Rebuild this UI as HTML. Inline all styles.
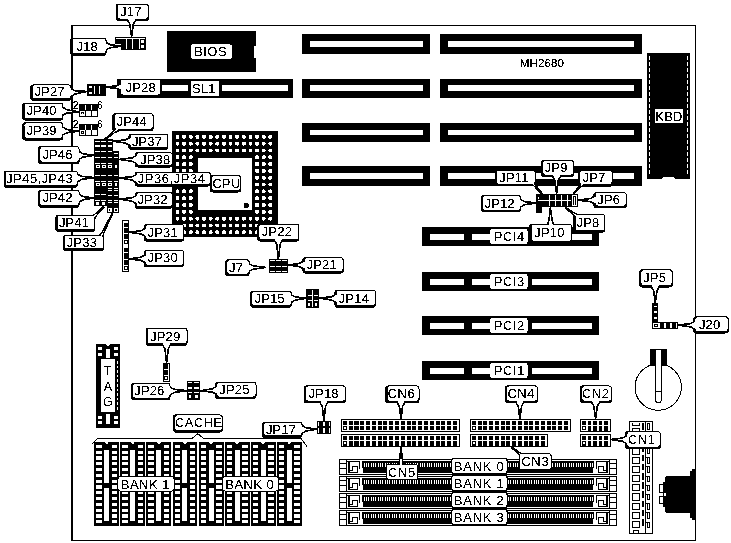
<!DOCTYPE html>
<html><head><meta charset="utf-8"><title>MH2680</title>
<style>
html,body{margin:0;padding:0;background:#fff;}
body{width:731px;height:543px;overflow:hidden;}
svg{display:block;}
text{font-family:"Liberation Sans",sans-serif;fill:#000;}
</style></head><body>
<svg width="731" height="543" viewBox="0 0 731 543">
<rect x="0" y="0" width="731" height="543" fill="#fff"/>
<defs><filter id="bw" x="0" y="0" width="731" height="543" filterUnits="userSpaceOnUse" color-interpolation-filters="sRGB"><feComponentTransfer><feFuncR type="discrete" tableValues="0 0 0 1 1"/><feFuncG type="discrete" tableValues="0 0 0 1 1"/><feFuncB type="discrete" tableValues="0 0 0 1 1"/></feComponentTransfer></filter></defs>
<g shape-rendering="crispEdges" filter="url(#bw)">
<rect x="0" y="0" width="731" height="543" fill="#fff"/>
<rect x="71.00" y="25.00" width="1.70" height="516.00" fill="#000" />
<rect x="71.00" y="25.00" width="625.00" height="1.00" fill="#000" />
<rect x="695.00" y="25.00" width="1.00" height="516.00" fill="#000" />
<rect x="71.00" y="539.50" width="625.00" height="1.60" fill="#000" />
<rect x="302.00" y="34.00" width="128.00" height="20.00" fill="#000" />
<rect x="310.00" y="41.00" width="113.00" height="6.00" fill="#fff" />
<rect x="440.00" y="34.00" width="202.00" height="20.00" fill="#000" />
<rect x="448.00" y="41.00" width="186.00" height="6.00" fill="#fff" />
<rect x="302.00" y="79.00" width="128.00" height="19.00" fill="#000" />
<rect x="310.00" y="85.00" width="113.00" height="6.00" fill="#fff" />
<rect x="440.00" y="79.00" width="202.00" height="19.00" fill="#000" />
<rect x="448.00" y="85.00" width="186.00" height="6.00" fill="#fff" />
<rect x="302.00" y="123.00" width="128.00" height="19.00" fill="#000" />
<rect x="310.00" y="130.00" width="113.00" height="5.00" fill="#fff" />
<rect x="440.00" y="123.00" width="202.00" height="19.00" fill="#000" />
<rect x="448.00" y="130.00" width="186.00" height="5.00" fill="#fff" />
<rect x="302.00" y="166.00" width="128.00" height="20.00" fill="#000" />
<rect x="310.00" y="173.00" width="113.00" height="6.00" fill="#fff" />
<rect x="440.00" y="166.00" width="202.00" height="20.00" fill="#000" />
<rect x="448.00" y="173.00" width="186.00" height="6.00" fill="#fff" />
<rect x="117.00" y="78.50" width="176.00" height="19.20" fill="#000" />
<rect x="162.30" y="85.00" width="25.70" height="6.00" fill="#fff" />
<rect x="222.00" y="85.00" width="66.00" height="6.00" fill="#fff" />
<rect x="191.00" y="81.00" width="28.00" height="14.50" fill="#fff" />
<text x="203.60" y="93.00" font-size="13" text-anchor="middle" letter-spacing="0.1" >SL1</text>
<rect x="167.00" y="31.00" width="89.00" height="41.00" fill="#000" />
<rect x="253.80" y="45.80" width="2.20" height="11.70" fill="#fff" />
<rect x="191.00" y="44.30" width="40.80" height="14.50" fill="#fff" rx="2.5"/>
<text x="210.60" y="56.30" font-size="13" text-anchor="middle" letter-spacing="0.5" >BIOS</text>
<text x="541.90" y="67.00" font-size="11.6" text-anchor="middle" letter-spacing="0.12" >MH2680</text>
<rect x="647.20" y="53.00" width="42.80" height="125.80" fill="#000" />
<line x1="649.7" y1="56" x2="649.7" y2="176" stroke="#fff" stroke-width="1" stroke-dasharray="4.2,1.8"/>
<line x1="687.6" y1="56" x2="687.6" y2="176" stroke="#fff" stroke-width="1" stroke-dasharray="4.2,1.8"/>
<path d="M661.8 178.9 Q663 177 665 177 L672 177 Q674.2 177 675.3 178.9 Z" fill="#fff"/>
<rect x="655.00" y="108.70" width="28.30" height="14.00" fill="#fff" />
<text x="669.00" y="120.60" font-size="13" text-anchor="middle" letter-spacing="0.3" >KBD</text>
<rect x="172.00" y="131.00" width="106.00" height="106.00" fill="#000" />
<rect x="175.60" y="134.90" width="3.80" height="3.80" fill="#fff" rx="1.3"/>
<rect x="182.23" y="134.90" width="3.80" height="3.80" fill="#fff" rx="1.3"/>
<rect x="188.86" y="134.90" width="3.80" height="3.80" fill="#fff" rx="1.3"/>
<rect x="195.49" y="134.90" width="3.80" height="3.80" fill="#fff" rx="1.3"/>
<rect x="202.12" y="134.90" width="3.80" height="3.80" fill="#fff" rx="1.3"/>
<rect x="208.75" y="134.90" width="3.80" height="3.80" fill="#fff" rx="1.3"/>
<rect x="215.38" y="134.90" width="3.80" height="3.80" fill="#fff" rx="1.3"/>
<rect x="222.01" y="134.90" width="3.80" height="3.80" fill="#fff" rx="1.3"/>
<rect x="228.64" y="134.90" width="3.80" height="3.80" fill="#fff" rx="1.3"/>
<rect x="235.27" y="134.90" width="3.80" height="3.80" fill="#fff" rx="1.3"/>
<rect x="241.90" y="134.90" width="3.80" height="3.80" fill="#fff" rx="1.3"/>
<rect x="248.53" y="134.90" width="3.80" height="3.80" fill="#fff" rx="1.3"/>
<rect x="255.16" y="134.90" width="3.80" height="3.80" fill="#fff" rx="1.3"/>
<rect x="261.79" y="134.90" width="3.80" height="3.80" fill="#fff" rx="1.3"/>
<rect x="268.42" y="134.90" width="3.80" height="3.80" fill="#fff" rx="1.3"/>
<rect x="175.60" y="141.72" width="3.80" height="3.80" fill="#fff" rx="1.3"/>
<rect x="182.23" y="141.72" width="3.80" height="3.80" fill="#fff" rx="1.3"/>
<rect x="188.86" y="141.72" width="3.80" height="3.80" fill="#fff" rx="1.3"/>
<rect x="195.49" y="141.72" width="3.80" height="3.80" fill="#fff" rx="1.3"/>
<rect x="202.12" y="141.72" width="3.80" height="3.80" fill="#fff" rx="1.3"/>
<rect x="208.75" y="141.72" width="3.80" height="3.80" fill="#fff" rx="1.3"/>
<rect x="215.38" y="141.72" width="3.80" height="3.80" fill="#fff" rx="1.3"/>
<rect x="222.01" y="141.72" width="3.80" height="3.80" fill="#fff" rx="1.3"/>
<rect x="228.64" y="141.72" width="3.80" height="3.80" fill="#fff" rx="1.3"/>
<rect x="235.27" y="141.72" width="3.80" height="3.80" fill="#fff" rx="1.3"/>
<rect x="241.90" y="141.72" width="3.80" height="3.80" fill="#fff" rx="1.3"/>
<rect x="248.53" y="141.72" width="3.80" height="3.80" fill="#fff" rx="1.3"/>
<rect x="255.16" y="141.72" width="3.80" height="3.80" fill="#fff" rx="1.3"/>
<rect x="261.79" y="141.72" width="3.80" height="3.80" fill="#fff" rx="1.3"/>
<rect x="268.42" y="141.72" width="3.80" height="3.80" fill="#fff" rx="1.3"/>
<rect x="175.60" y="148.54" width="3.80" height="3.80" fill="#fff" rx="1.3"/>
<rect x="182.23" y="148.54" width="3.80" height="3.80" fill="#fff" rx="1.3"/>
<rect x="188.86" y="148.54" width="3.80" height="3.80" fill="#fff" rx="1.3"/>
<rect x="195.49" y="148.54" width="3.80" height="3.80" fill="#fff" rx="1.3"/>
<rect x="202.12" y="148.54" width="3.80" height="3.80" fill="#fff" rx="1.3"/>
<rect x="208.75" y="148.54" width="3.80" height="3.80" fill="#fff" rx="1.3"/>
<rect x="215.38" y="148.54" width="3.80" height="3.80" fill="#fff" rx="1.3"/>
<rect x="222.01" y="148.54" width="3.80" height="3.80" fill="#fff" rx="1.3"/>
<rect x="228.64" y="148.54" width="3.80" height="3.80" fill="#fff" rx="1.3"/>
<rect x="235.27" y="148.54" width="3.80" height="3.80" fill="#fff" rx="1.3"/>
<rect x="241.90" y="148.54" width="3.80" height="3.80" fill="#fff" rx="1.3"/>
<rect x="248.53" y="148.54" width="3.80" height="3.80" fill="#fff" rx="1.3"/>
<rect x="255.16" y="148.54" width="3.80" height="3.80" fill="#fff" rx="1.3"/>
<rect x="261.79" y="148.54" width="3.80" height="3.80" fill="#fff" rx="1.3"/>
<rect x="268.42" y="148.54" width="3.80" height="3.80" fill="#fff" rx="1.3"/>
<rect x="175.60" y="155.36" width="3.80" height="3.80" fill="#fff" rx="1.3"/>
<rect x="182.23" y="155.36" width="3.80" height="3.80" fill="#fff" rx="1.3"/>
<rect x="188.86" y="155.36" width="3.80" height="3.80" fill="#fff" rx="1.3"/>
<rect x="255.16" y="155.36" width="3.80" height="3.80" fill="#fff" rx="1.3"/>
<rect x="261.79" y="155.36" width="3.80" height="3.80" fill="#fff" rx="1.3"/>
<rect x="268.42" y="155.36" width="3.80" height="3.80" fill="#fff" rx="1.3"/>
<rect x="175.60" y="162.18" width="3.80" height="3.80" fill="#fff" rx="1.3"/>
<rect x="182.23" y="162.18" width="3.80" height="3.80" fill="#fff" rx="1.3"/>
<rect x="188.86" y="162.18" width="3.80" height="3.80" fill="#fff" rx="1.3"/>
<rect x="255.16" y="162.18" width="3.80" height="3.80" fill="#fff" rx="1.3"/>
<rect x="261.79" y="162.18" width="3.80" height="3.80" fill="#fff" rx="1.3"/>
<rect x="268.42" y="162.18" width="3.80" height="3.80" fill="#fff" rx="1.3"/>
<rect x="175.60" y="169.00" width="3.80" height="3.80" fill="#fff" rx="1.3"/>
<rect x="182.23" y="169.00" width="3.80" height="3.80" fill="#fff" rx="1.3"/>
<rect x="188.86" y="169.00" width="3.80" height="3.80" fill="#fff" rx="1.3"/>
<rect x="255.16" y="169.00" width="3.80" height="3.80" fill="#fff" rx="1.3"/>
<rect x="261.79" y="169.00" width="3.80" height="3.80" fill="#fff" rx="1.3"/>
<rect x="268.42" y="169.00" width="3.80" height="3.80" fill="#fff" rx="1.3"/>
<rect x="175.60" y="175.82" width="3.80" height="3.80" fill="#fff" rx="1.3"/>
<rect x="182.23" y="175.82" width="3.80" height="3.80" fill="#fff" rx="1.3"/>
<rect x="188.86" y="175.82" width="3.80" height="3.80" fill="#fff" rx="1.3"/>
<rect x="255.16" y="175.82" width="3.80" height="3.80" fill="#fff" rx="1.3"/>
<rect x="261.79" y="175.82" width="3.80" height="3.80" fill="#fff" rx="1.3"/>
<rect x="268.42" y="175.82" width="3.80" height="3.80" fill="#fff" rx="1.3"/>
<rect x="175.60" y="182.64" width="3.80" height="3.80" fill="#fff" rx="1.3"/>
<rect x="182.23" y="182.64" width="3.80" height="3.80" fill="#fff" rx="1.3"/>
<rect x="188.86" y="182.64" width="3.80" height="3.80" fill="#fff" rx="1.3"/>
<rect x="255.16" y="182.64" width="3.80" height="3.80" fill="#fff" rx="1.3"/>
<rect x="261.79" y="182.64" width="3.80" height="3.80" fill="#fff" rx="1.3"/>
<rect x="268.42" y="182.64" width="3.80" height="3.80" fill="#fff" rx="1.3"/>
<rect x="175.60" y="189.46" width="3.80" height="3.80" fill="#fff" rx="1.3"/>
<rect x="182.23" y="189.46" width="3.80" height="3.80" fill="#fff" rx="1.3"/>
<rect x="188.86" y="189.46" width="3.80" height="3.80" fill="#fff" rx="1.3"/>
<rect x="255.16" y="189.46" width="3.80" height="3.80" fill="#fff" rx="1.3"/>
<rect x="261.79" y="189.46" width="3.80" height="3.80" fill="#fff" rx="1.3"/>
<rect x="268.42" y="189.46" width="3.80" height="3.80" fill="#fff" rx="1.3"/>
<rect x="175.60" y="196.28" width="3.80" height="3.80" fill="#fff" rx="1.3"/>
<rect x="182.23" y="196.28" width="3.80" height="3.80" fill="#fff" rx="1.3"/>
<rect x="188.86" y="196.28" width="3.80" height="3.80" fill="#fff" rx="1.3"/>
<rect x="255.16" y="196.28" width="3.80" height="3.80" fill="#fff" rx="1.3"/>
<rect x="261.79" y="196.28" width="3.80" height="3.80" fill="#fff" rx="1.3"/>
<rect x="268.42" y="196.28" width="3.80" height="3.80" fill="#fff" rx="1.3"/>
<rect x="175.60" y="203.10" width="3.80" height="3.80" fill="#fff" rx="1.3"/>
<rect x="182.23" y="203.10" width="3.80" height="3.80" fill="#fff" rx="1.3"/>
<rect x="188.86" y="203.10" width="3.80" height="3.80" fill="#fff" rx="1.3"/>
<rect x="255.16" y="203.10" width="3.80" height="3.80" fill="#fff" rx="1.3"/>
<rect x="261.79" y="203.10" width="3.80" height="3.80" fill="#fff" rx="1.3"/>
<rect x="268.42" y="203.10" width="3.80" height="3.80" fill="#fff" rx="1.3"/>
<rect x="175.60" y="209.92" width="3.80" height="3.80" fill="#fff" rx="1.3"/>
<rect x="182.23" y="209.92" width="3.80" height="3.80" fill="#fff" rx="1.3"/>
<rect x="188.86" y="209.92" width="3.80" height="3.80" fill="#fff" rx="1.3"/>
<rect x="255.16" y="209.92" width="3.80" height="3.80" fill="#fff" rx="1.3"/>
<rect x="261.79" y="209.92" width="3.80" height="3.80" fill="#fff" rx="1.3"/>
<rect x="268.42" y="209.92" width="3.80" height="3.80" fill="#fff" rx="1.3"/>
<rect x="175.60" y="216.74" width="3.80" height="3.80" fill="#fff" rx="1.3"/>
<rect x="182.23" y="216.74" width="3.80" height="3.80" fill="#fff" rx="1.3"/>
<rect x="188.86" y="216.74" width="3.80" height="3.80" fill="#fff" rx="1.3"/>
<rect x="195.49" y="216.74" width="3.80" height="3.80" fill="#fff" rx="1.3"/>
<rect x="202.12" y="216.74" width="3.80" height="3.80" fill="#fff" rx="1.3"/>
<rect x="208.75" y="216.74" width="3.80" height="3.80" fill="#fff" rx="1.3"/>
<rect x="215.38" y="216.74" width="3.80" height="3.80" fill="#fff" rx="1.3"/>
<rect x="222.01" y="216.74" width="3.80" height="3.80" fill="#fff" rx="1.3"/>
<rect x="228.64" y="216.74" width="3.80" height="3.80" fill="#fff" rx="1.3"/>
<rect x="235.27" y="216.74" width="3.80" height="3.80" fill="#fff" rx="1.3"/>
<rect x="241.90" y="216.74" width="3.80" height="3.80" fill="#fff" rx="1.3"/>
<rect x="248.53" y="216.74" width="3.80" height="3.80" fill="#fff" rx="1.3"/>
<rect x="255.16" y="216.74" width="3.80" height="3.80" fill="#fff" rx="1.3"/>
<rect x="261.79" y="216.74" width="3.80" height="3.80" fill="#fff" rx="1.3"/>
<rect x="268.42" y="216.74" width="3.80" height="3.80" fill="#fff" rx="1.3"/>
<rect x="175.60" y="223.56" width="3.80" height="3.80" fill="#fff" rx="1.3"/>
<rect x="182.23" y="223.56" width="3.80" height="3.80" fill="#fff" rx="1.3"/>
<rect x="188.86" y="223.56" width="3.80" height="3.80" fill="#fff" rx="1.3"/>
<rect x="195.49" y="223.56" width="3.80" height="3.80" fill="#fff" rx="1.3"/>
<rect x="202.12" y="223.56" width="3.80" height="3.80" fill="#fff" rx="1.3"/>
<rect x="208.75" y="223.56" width="3.80" height="3.80" fill="#fff" rx="1.3"/>
<rect x="215.38" y="223.56" width="3.80" height="3.80" fill="#fff" rx="1.3"/>
<rect x="222.01" y="223.56" width="3.80" height="3.80" fill="#fff" rx="1.3"/>
<rect x="228.64" y="223.56" width="3.80" height="3.80" fill="#fff" rx="1.3"/>
<rect x="235.27" y="223.56" width="3.80" height="3.80" fill="#fff" rx="1.3"/>
<rect x="241.90" y="223.56" width="3.80" height="3.80" fill="#fff" rx="1.3"/>
<rect x="248.53" y="223.56" width="3.80" height="3.80" fill="#fff" rx="1.3"/>
<rect x="255.16" y="223.56" width="3.80" height="3.80" fill="#fff" rx="1.3"/>
<rect x="261.79" y="223.56" width="3.80" height="3.80" fill="#fff" rx="1.3"/>
<rect x="268.42" y="223.56" width="3.80" height="3.80" fill="#fff" rx="1.3"/>
<rect x="175.60" y="230.38" width="3.80" height="3.80" fill="#fff" rx="1.3"/>
<rect x="182.23" y="230.38" width="3.80" height="3.80" fill="#fff" rx="1.3"/>
<rect x="188.86" y="230.38" width="3.80" height="3.80" fill="#fff" rx="1.3"/>
<rect x="195.49" y="230.38" width="3.80" height="3.80" fill="#fff" rx="1.3"/>
<rect x="202.12" y="230.38" width="3.80" height="3.80" fill="#fff" rx="1.3"/>
<rect x="208.75" y="230.38" width="3.80" height="3.80" fill="#fff" rx="1.3"/>
<rect x="215.38" y="230.38" width="3.80" height="3.80" fill="#fff" rx="1.3"/>
<rect x="222.01" y="230.38" width="3.80" height="3.80" fill="#fff" rx="1.3"/>
<rect x="228.64" y="230.38" width="3.80" height="3.80" fill="#fff" rx="1.3"/>
<rect x="235.27" y="230.38" width="3.80" height="3.80" fill="#fff" rx="1.3"/>
<rect x="241.90" y="230.38" width="3.80" height="3.80" fill="#fff" rx="1.3"/>
<rect x="248.53" y="230.38" width="3.80" height="3.80" fill="#fff" rx="1.3"/>
<rect x="255.16" y="230.38" width="3.80" height="3.80" fill="#fff" rx="1.3"/>
<rect x="261.79" y="230.38" width="3.80" height="3.80" fill="#fff" rx="1.3"/>
<rect x="268.42" y="230.38" width="3.80" height="3.80" fill="#fff" rx="1.3"/>
<rect x="197.80" y="157.70" width="54.20" height="52.30" fill="#fff" />
<circle cx="246.2" cy="205.6" r="2.7" fill="#000"/>
<rect x="422.00" y="227.00" width="177.00" height="19.00" fill="#000" />
<rect x="430.00" y="234.00" width="34.00" height="6.00" fill="#fff" />
<rect x="472.00" y="234.00" width="17.50" height="6.00" fill="#fff" />
<rect x="532.00" y="234.00" width="60.40" height="6.00" fill="#fff" />
<rect x="490.30" y="229.00" width="37.30" height="15.00" fill="#fff" rx="2.5"/>
<text x="509.30" y="241.20" font-size="13" text-anchor="middle" letter-spacing="0.5" >PCI4</text>
<rect x="422.00" y="272.00" width="177.00" height="19.00" fill="#000" />
<rect x="430.00" y="279.00" width="34.00" height="6.00" fill="#fff" />
<rect x="472.00" y="279.00" width="17.50" height="6.00" fill="#fff" />
<rect x="532.00" y="279.00" width="60.40" height="6.00" fill="#fff" />
<rect x="490.30" y="274.00" width="37.30" height="15.00" fill="#fff" rx="2.5"/>
<text x="509.30" y="286.20" font-size="13" text-anchor="middle" letter-spacing="0.5" >PCI3</text>
<rect x="422.00" y="316.00" width="177.00" height="19.00" fill="#000" />
<rect x="430.00" y="323.00" width="34.00" height="6.00" fill="#fff" />
<rect x="472.00" y="323.00" width="17.50" height="6.00" fill="#fff" />
<rect x="532.00" y="323.00" width="60.40" height="6.00" fill="#fff" />
<rect x="490.30" y="318.00" width="37.30" height="15.00" fill="#fff" rx="2.5"/>
<text x="509.30" y="330.20" font-size="13" text-anchor="middle" letter-spacing="0.5" >PCI2</text>
<rect x="422.00" y="361.00" width="177.00" height="19.00" fill="#000" />
<rect x="430.00" y="368.00" width="34.00" height="6.00" fill="#fff" />
<rect x="472.00" y="368.00" width="17.50" height="6.00" fill="#fff" />
<rect x="532.00" y="368.00" width="60.40" height="6.00" fill="#fff" />
<rect x="490.30" y="363.00" width="37.30" height="15.00" fill="#fff" rx="2.5"/>
<text x="509.30" y="375.20" font-size="13" text-anchor="middle" letter-spacing="0.5" >PCI1</text>
<rect x="115.00" y="37.00" width="31.00" height="7.00" fill="#000" />
<rect x="121.00" y="37.00" width="25.00" height="13.00" fill="#000" />
<rect x="116.00" y="38.00" width="29.00" height="1.00" fill="#fff" />
<rect x="126.00" y="39.00" width="1.00" height="10.00" fill="#fff" />
<rect x="132.00" y="39.00" width="1.00" height="10.00" fill="#fff" />
<rect x="139.00" y="39.00" width="1.00" height="10.00" fill="#fff" />
<rect x="141.00" y="40.00" width="3.00" height="3.00" fill="#fff" />
<rect x="141.00" y="45.00" width="3.00" height="3.00" fill="#fff" />
<rect x="87.30" y="84.00" width="18.70" height="11.70" fill="#000" />
<rect x="89.30" y="85.70" width="3.00" height="2.50" fill="#fff" />
<rect x="89.30" y="91.60" width="3.00" height="2.40" fill="#fff" />
<rect x="93.60" y="85.70" width="1.00" height="8.30" fill="#fff" />
<rect x="98.60" y="85.70" width="1.00" height="8.30" fill="#fff" />
<rect x="79.30" y="104.30" width="18.70" height="12.20" fill="#000" />
<rect x="80.30" y="110.90" width="4.60" height="4.60" fill="#fff" />
<rect x="86.10" y="110.90" width="4.90" height="4.60" fill="#fff" />
<rect x="92.20" y="110.90" width="4.80" height="4.60" fill="#fff" />
<rect x="84.90" y="105.30" width="1.20" height="5.00" fill="#fff" />
<rect x="91.00" y="105.30" width="1.20" height="5.00" fill="#fff" />
<rect x="81.40" y="111.90" width="2.40" height="2.40" fill="#000" />
<rect x="82.10" y="112.60" width="1.00" height="1.00" fill="#fff" />
<text x="75.60" y="108.60" font-size="10.5" text-anchor="middle" letter-spacing="0" >2</text>
<text x="100.00" y="108.60" font-size="10.5" text-anchor="middle" letter-spacing="0" >6</text>
<rect x="79.30" y="123.50" width="18.70" height="12.20" fill="#000" />
<rect x="80.30" y="130.10" width="4.60" height="4.60" fill="#fff" />
<rect x="86.10" y="130.10" width="4.90" height="4.60" fill="#fff" />
<rect x="92.20" y="130.10" width="4.80" height="4.60" fill="#fff" />
<rect x="84.90" y="124.50" width="1.20" height="5.00" fill="#fff" />
<rect x="91.00" y="124.50" width="1.20" height="5.00" fill="#fff" />
<rect x="81.40" y="131.10" width="2.40" height="2.40" fill="#000" />
<rect x="82.10" y="131.80" width="1.00" height="1.00" fill="#fff" />
<text x="75.60" y="127.80" font-size="10.5" text-anchor="middle" letter-spacing="0" >2</text>
<text x="100.00" y="127.80" font-size="10.5" text-anchor="middle" letter-spacing="0" >6</text>
<rect x="94.00" y="139.00" width="19.00" height="67.00" fill="#000" />
<rect x="113.00" y="151.00" width="5.60" height="62.30" fill="#000" />
<rect x="107.00" y="206.00" width="11.60" height="7.30" fill="#000" />
<rect x="95.00" y="141.00" width="5.00" height="1.00" fill="#fff" />
<rect x="101.00" y="141.00" width="5.00" height="1.00" fill="#fff" />
<rect x="107.60" y="141.00" width="4.40" height="1.00" fill="#fff" />
<rect x="95.00" y="145.00" width="5.00" height="2.00" fill="#fff" />
<rect x="101.00" y="145.00" width="5.00" height="2.00" fill="#fff" />
<rect x="107.60" y="145.00" width="4.40" height="2.00" fill="#fff" />
<rect x="95.00" y="151.00" width="5.00" height="1.00" fill="#fff" />
<rect x="101.00" y="151.00" width="5.00" height="1.00" fill="#fff" />
<rect x="107.60" y="151.00" width="4.40" height="1.00" fill="#fff" />
<rect x="114.00" y="153.00" width="4.00" height="1.00" fill="#fff" />
<rect x="95.00" y="157.00" width="5.00" height="1.00" fill="#fff" />
<rect x="101.00" y="157.00" width="5.00" height="1.00" fill="#fff" />
<rect x="107.60" y="157.00" width="4.40" height="1.00" fill="#fff" />
<rect x="114.00" y="157.00" width="4.00" height="1.00" fill="#fff" />
<rect x="95.00" y="163.00" width="5.00" height="1.00" fill="#fff" />
<rect x="101.00" y="163.00" width="5.00" height="1.00" fill="#fff" />
<rect x="107.60" y="163.00" width="4.40" height="1.00" fill="#fff" />
<rect x="95.50" y="165.00" width="4.00" height="3.00" fill="#fff" />
<rect x="96.50" y="166.00" width="2.00" height="1.00" fill="#000" />
<rect x="101.50" y="165.00" width="4.00" height="3.00" fill="#fff" />
<rect x="102.50" y="166.00" width="2.00" height="1.00" fill="#000" />
<rect x="108.10" y="165.00" width="3.40" height="3.00" fill="#fff" />
<rect x="109.10" y="166.00" width="1.40" height="1.00" fill="#000" />
<rect x="115.00" y="165.00" width="2.00" height="3.00" fill="#fff" />
<rect x="95.00" y="181.00" width="5.00" height="1.00" fill="#fff" />
<rect x="101.00" y="181.00" width="5.00" height="1.00" fill="#fff" />
<rect x="107.60" y="181.00" width="4.40" height="1.00" fill="#fff" />
<rect x="114.00" y="181.00" width="4.00" height="1.00" fill="#fff" />
<rect x="95.50" y="183.00" width="4.00" height="3.00" fill="#fff" />
<rect x="96.50" y="184.00" width="2.00" height="1.00" fill="#000" />
<rect x="101.50" y="183.00" width="4.00" height="3.00" fill="#fff" />
<rect x="102.50" y="184.00" width="2.00" height="1.00" fill="#000" />
<rect x="108.10" y="183.00" width="3.40" height="3.00" fill="#fff" />
<rect x="109.10" y="184.00" width="1.40" height="1.00" fill="#000" />
<rect x="115.00" y="183.00" width="2.00" height="3.00" fill="#fff" />
<rect x="95.00" y="175.00" width="5.00" height="1.00" fill="#fff" />
<rect x="101.00" y="175.00" width="5.00" height="1.00" fill="#fff" />
<rect x="107.60" y="175.00" width="4.40" height="1.00" fill="#fff" />
<rect x="114.00" y="175.00" width="4.00" height="1.00" fill="#fff" />
<rect x="107.60" y="188.00" width="4.40" height="1.00" fill="#fff" />
<rect x="114.00" y="188.00" width="4.00" height="1.00" fill="#fff" />
<rect x="107.60" y="190.00" width="4.40" height="1.00" fill="#fff" />
<rect x="114.00" y="190.00" width="4.00" height="1.00" fill="#fff" />
<rect x="95.00" y="194.00" width="5.00" height="1.00" fill="#fff" />
<rect x="101.00" y="194.00" width="5.00" height="1.00" fill="#fff" />
<rect x="107.60" y="195.00" width="4.40" height="1.00" fill="#fff" />
<rect x="114.00" y="195.00" width="4.00" height="1.00" fill="#fff" />
<rect x="95.00" y="200.00" width="5.00" height="1.00" fill="#fff" />
<rect x="101.00" y="200.00" width="5.00" height="1.00" fill="#fff" />
<rect x="107.60" y="200.00" width="4.40" height="1.00" fill="#fff" />
<rect x="114.00" y="200.00" width="4.00" height="1.00" fill="#fff" />
<rect x="95.50" y="202.00" width="3.50" height="3.30" fill="#fff" />
<rect x="101.50" y="202.00" width="3.50" height="3.30" fill="#fff" />
<rect x="107.60" y="202.00" width="4.40" height="1.00" fill="#fff" />
<rect x="114.00" y="202.00" width="4.00" height="1.00" fill="#fff" />
<rect x="108.30" y="207.60" width="3.70" height="4.60" fill="#fff" />
<rect x="109.30" y="208.60" width="1.70" height="2.60" fill="#000" />
<rect x="109.80" y="209.00" width="0.70" height="1.60" fill="#fff" />
<rect x="114.00" y="207.60" width="3.60" height="4.60" fill="#fff" />
<rect x="115.00" y="208.60" width="1.60" height="2.60" fill="#000" />
<rect x="115.50" y="209.00" width="0.60" height="1.60" fill="#fff" />
<rect x="122.00" y="220.00" width="7.20" height="52.00" fill="#000" />
<rect x="123.00" y="221.00" width="5.20" height="50.00" fill="#fff" />
<rect x="124.00" y="223.00" width="5.00" height="4.40" fill="#000" />
<rect x="124.00" y="228.40" width="5.00" height="4.40" fill="#000" />
<rect x="124.00" y="234.20" width="5.00" height="4.80" fill="#000" />
<rect x="124.00" y="248.00" width="5.00" height="4.40" fill="#000" />
<rect x="124.00" y="253.40" width="5.00" height="5.20" fill="#000" />
<rect x="124.00" y="260.20" width="5.00" height="4.60" fill="#000" />
<rect x="124.00" y="240.00" width="5.00" height="4.30" fill="#000" />
<rect x="125.40" y="241.20" width="1.60" height="1.70" fill="#fff" />
<rect x="124.00" y="265.80" width="5.00" height="4.30" fill="#000" />
<rect x="125.40" y="267.00" width="1.60" height="1.70" fill="#fff" />
<rect x="269.20" y="258.80" width="18.80" height="14.20" fill="#000" />
<rect x="270.30" y="260.00" width="4.40" height="1.00" fill="#fff" />
<rect x="276.30" y="260.00" width="4.70" height="1.00" fill="#fff" />
<rect x="282.40" y="260.00" width="4.40" height="1.00" fill="#fff" />
<rect x="270.30" y="265.50" width="4.40" height="1.00" fill="#fff" />
<rect x="276.30" y="265.50" width="4.70" height="1.00" fill="#fff" />
<rect x="282.40" y="265.50" width="4.40" height="1.00" fill="#fff" />
<rect x="270.30" y="271.00" width="4.40" height="1.00" fill="#fff" />
<rect x="276.30" y="271.00" width="4.70" height="1.00" fill="#fff" />
<rect x="282.40" y="271.00" width="4.40" height="1.00" fill="#fff" />
<rect x="306.00" y="289.00" width="13.30" height="18.70" fill="#000" />
<rect x="312.00" y="290.00" width="1.00" height="17.00" fill="#fff" />
<rect x="307.50" y="295.00" width="4.00" height="1.00" fill="#fff" />
<rect x="313.50" y="295.00" width="4.50" height="1.00" fill="#fff" />
<rect x="307.50" y="300.00" width="4.00" height="1.00" fill="#fff" />
<rect x="313.50" y="300.00" width="4.50" height="1.00" fill="#fff" />
<rect x="308.00" y="303.00" width="2.30" height="3.00" fill="#fff" />
<rect x="314.50" y="303.00" width="2.50" height="3.00" fill="#fff" />
<rect x="536.30" y="194.30" width="41.20" height="13.10" fill="#000" />
<rect x="536.30" y="207.00" width="5.30" height="5.80" fill="#000" />
<rect x="538.00" y="195.60" width="33.00" height="0.80" fill="#fff" />
<rect x="538.00" y="200.20" width="33.00" height="0.80" fill="#fff" />
<rect x="543.60" y="195.40" width="0.80" height="11.00" fill="#fff" />
<rect x="549.40" y="195.40" width="0.80" height="11.00" fill="#fff" />
<rect x="555.20" y="195.40" width="0.80" height="11.00" fill="#fff" />
<rect x="561.00" y="195.40" width="0.80" height="11.00" fill="#fff" />
<rect x="566.80" y="195.40" width="0.80" height="11.00" fill="#fff" />
<rect x="572.40" y="195.40" width="4.10" height="11.00" fill="#fff" />
<rect x="573.30" y="196.40" width="2.30" height="9.00" fill="#000" />
<rect x="574.00" y="197.20" width="1.00" height="7.40" fill="#fff" />
<rect x="537.50" y="196.80" width="1.50" height="1.80" fill="#fff" />
<rect x="652.30" y="302.90" width="6.00" height="19.90" fill="#000" />
<rect x="653.60" y="306.00" width="3.40" height="1.20" fill="#fff" />
<rect x="653.60" y="310.80" width="3.40" height="2.50" fill="#fff" />
<rect x="653.60" y="316.60" width="3.40" height="2.80" fill="#fff" />
<rect x="652.30" y="322.20" width="25.50" height="6.60" fill="#000" />
<rect x="653.20" y="323.10" width="23.70" height="4.80" fill="#fff" />
<rect x="659.60" y="323.10" width="4.00" height="4.80" fill="#000" />
<rect x="665.60" y="323.10" width="4.00" height="4.80" fill="#000" />
<rect x="671.60" y="323.10" width="4.00" height="4.80" fill="#000" />
<rect x="654.40" y="324.20" width="3.20" height="2.80" fill="#000" />
<rect x="655.20" y="324.90" width="1.60" height="1.40" fill="#fff" />
<circle cx="658.2" cy="387.1" r="23.2" fill="#fff" stroke="#000" stroke-width="1"/>
<rect x="650.00" y="349.00" width="17.00" height="17.00" fill="#000" />
<path d="M655.5 349.5 L661.3 349.5 L661.3 399 Q661.3 403 658.4 403 Q655.5 403 655.5 399 Z" fill="#fff" stroke="#000" stroke-width="1"/>
<rect x="655.50" y="390.60" width="5.80" height="1.00" fill="#000" />
<rect x="96.20" y="344.20" width="24.00" height="83.30" fill="#000" />
<rect x="98.20" y="347.00" width="4.20" height="3.20" fill="#fff" />
<rect x="98.20" y="352.50" width="4.20" height="3.20" fill="#fff" />
<rect x="98.20" y="415.50" width="4.20" height="3.20" fill="#fff" />
<rect x="98.20" y="421.00" width="4.20" height="3.20" fill="#fff" />
<rect x="113.60" y="347.00" width="4.40" height="3.20" fill="#fff" />
<rect x="113.60" y="352.50" width="4.40" height="3.20" fill="#fff" />
<rect x="113.60" y="415.50" width="4.40" height="3.20" fill="#fff" />
<rect x="113.60" y="421.00" width="4.40" height="3.20" fill="#fff" />
<rect x="105.80" y="349.00" width="4.00" height="8.50" fill="#fff" />
<rect x="105.80" y="414.00" width="4.00" height="9.50" fill="#fff" />
<polygon points="105.50,344.20 108.00,347.00 110.50,344.20" fill="#fff" />
<rect x="100.70" y="358.80" width="14.50" height="53.30" fill="#fff" rx="2.5"/>
<line x1="117.4" y1="361" x2="117.4" y2="410" stroke="#fff" stroke-width="1" stroke-dasharray="2.6,2"/>
<text x="107.80" y="375.00" font-size="12.5" text-anchor="middle" letter-spacing="0" >T</text>
<text x="107.80" y="390.60" font-size="12.5" text-anchor="middle" letter-spacing="0" >A</text>
<text x="107.80" y="406.20" font-size="12.5" text-anchor="middle" letter-spacing="0" >G</text>
<rect x="163.00" y="363.00" width="7.20" height="19.00" fill="#000" />
<rect x="164.00" y="364.00" width="5.20" height="17.00" fill="#fff" />
<rect x="164.00" y="364.00" width="4.00" height="5.00" fill="#000" />
<rect x="164.00" y="370.00" width="4.00" height="5.00" fill="#000" />
<rect x="164.00" y="376.00" width="4.00" height="4.40" fill="#000" />
<rect x="165.40" y="377.30" width="1.40" height="1.90" fill="#fff" />
<rect x="187.00" y="381.00" width="13.20" height="19.20" fill="#000" />
<rect x="188.00" y="382.00" width="4.30" height="1.00" fill="#fff" />
<rect x="188.00" y="387.00" width="4.30" height="2.00" fill="#fff" />
<rect x="188.00" y="392.40" width="4.30" height="0.90" fill="#fff" />
<rect x="193.70" y="382.00" width="5.30" height="1.00" fill="#fff" />
<rect x="193.70" y="387.00" width="5.30" height="2.00" fill="#fff" />
<rect x="193.70" y="392.40" width="5.30" height="0.90" fill="#fff" />
<rect x="189.00" y="395.00" width="2.30" height="3.20" fill="#fff" />
<rect x="195.00" y="395.00" width="2.80" height="3.20" fill="#fff" />
<line x1="97.30" y1="438.50" x2="301.00" y2="438.50" stroke="#000" stroke-width="1"/>
<line x1="97.60" y1="438.30" x2="91.70" y2="444.50" stroke="#000" stroke-width="1"/>
<line x1="300.80" y1="438.30" x2="307.00" y2="446.60" stroke="#000" stroke-width="1"/>
<polygon points="190.50,439.00 197.80,433.00 205.00,439.00 203.40,439.00 197.80,434.40 192.20,439.00" fill="#000" />
<polygon points="192.20,439.20 197.80,434.40 203.40,439.20" fill="#fff" />
<rect x="94.20" y="442.00" width="24.90" height="83.80" fill="#000" />
<polygon points="104.40,442.00 106.60,444.60 108.80,442.00" fill="#fff" />
<rect x="96.20" y="444.70" width="5.50" height="3.20" fill="#fff" />
<rect x="111.60" y="444.70" width="5.50" height="3.20" fill="#fff" />
<rect x="96.20" y="450.50" width="5.50" height="3.20" fill="#fff" />
<rect x="111.60" y="450.50" width="5.50" height="3.20" fill="#fff" />
<rect x="96.20" y="456.30" width="5.50" height="3.20" fill="#fff" />
<rect x="111.60" y="456.30" width="5.50" height="3.20" fill="#fff" />
<rect x="96.20" y="462.10" width="5.50" height="3.20" fill="#fff" />
<rect x="111.60" y="462.10" width="5.50" height="3.20" fill="#fff" />
<rect x="96.20" y="467.90" width="5.50" height="3.20" fill="#fff" />
<rect x="111.60" y="467.90" width="5.50" height="3.20" fill="#fff" />
<rect x="96.20" y="473.70" width="5.50" height="3.20" fill="#fff" />
<rect x="111.60" y="473.70" width="5.50" height="3.20" fill="#fff" />
<rect x="96.20" y="479.50" width="5.50" height="3.20" fill="#fff" />
<rect x="111.60" y="479.50" width="5.50" height="3.20" fill="#fff" />
<rect x="96.20" y="485.30" width="5.50" height="3.20" fill="#fff" />
<rect x="111.60" y="485.30" width="5.50" height="3.20" fill="#fff" />
<rect x="96.20" y="491.10" width="5.50" height="3.20" fill="#fff" />
<rect x="111.60" y="491.10" width="5.50" height="3.20" fill="#fff" />
<rect x="96.20" y="496.90" width="5.50" height="3.20" fill="#fff" />
<rect x="111.60" y="496.90" width="5.50" height="3.20" fill="#fff" />
<rect x="96.20" y="502.70" width="5.50" height="3.20" fill="#fff" />
<rect x="111.60" y="502.70" width="5.50" height="3.20" fill="#fff" />
<rect x="96.20" y="508.50" width="5.50" height="3.20" fill="#fff" />
<rect x="111.60" y="508.50" width="5.50" height="3.20" fill="#fff" />
<rect x="96.20" y="514.30" width="5.50" height="3.20" fill="#fff" />
<rect x="111.60" y="514.30" width="5.50" height="3.20" fill="#fff" />
<rect x="96.20" y="520.10" width="5.50" height="3.20" fill="#fff" />
<rect x="111.60" y="520.10" width="5.50" height="3.20" fill="#fff" />
<rect x="104.10" y="449.80" width="5.00" height="33.40" fill="#fff" />
<rect x="104.10" y="488.00" width="5.00" height="32.60" fill="#fff" />
<rect x="120.30" y="442.00" width="24.90" height="83.80" fill="#000" />
<polygon points="130.50,442.00 132.70,444.60 134.90,442.00" fill="#fff" />
<rect x="122.30" y="444.70" width="5.50" height="3.20" fill="#fff" />
<rect x="137.70" y="444.70" width="5.50" height="3.20" fill="#fff" />
<rect x="122.30" y="450.50" width="5.50" height="3.20" fill="#fff" />
<rect x="137.70" y="450.50" width="5.50" height="3.20" fill="#fff" />
<rect x="122.30" y="456.30" width="5.50" height="3.20" fill="#fff" />
<rect x="137.70" y="456.30" width="5.50" height="3.20" fill="#fff" />
<rect x="122.30" y="462.10" width="5.50" height="3.20" fill="#fff" />
<rect x="137.70" y="462.10" width="5.50" height="3.20" fill="#fff" />
<rect x="122.30" y="467.90" width="5.50" height="3.20" fill="#fff" />
<rect x="137.70" y="467.90" width="5.50" height="3.20" fill="#fff" />
<rect x="122.30" y="473.70" width="5.50" height="3.20" fill="#fff" />
<rect x="137.70" y="473.70" width="5.50" height="3.20" fill="#fff" />
<rect x="122.30" y="479.50" width="5.50" height="3.20" fill="#fff" />
<rect x="137.70" y="479.50" width="5.50" height="3.20" fill="#fff" />
<rect x="122.30" y="485.30" width="5.50" height="3.20" fill="#fff" />
<rect x="137.70" y="485.30" width="5.50" height="3.20" fill="#fff" />
<rect x="122.30" y="491.10" width="5.50" height="3.20" fill="#fff" />
<rect x="137.70" y="491.10" width="5.50" height="3.20" fill="#fff" />
<rect x="122.30" y="496.90" width="5.50" height="3.20" fill="#fff" />
<rect x="137.70" y="496.90" width="5.50" height="3.20" fill="#fff" />
<rect x="122.30" y="502.70" width="5.50" height="3.20" fill="#fff" />
<rect x="137.70" y="502.70" width="5.50" height="3.20" fill="#fff" />
<rect x="122.30" y="508.50" width="5.50" height="3.20" fill="#fff" />
<rect x="137.70" y="508.50" width="5.50" height="3.20" fill="#fff" />
<rect x="122.30" y="514.30" width="5.50" height="3.20" fill="#fff" />
<rect x="137.70" y="514.30" width="5.50" height="3.20" fill="#fff" />
<rect x="122.30" y="520.10" width="5.50" height="3.20" fill="#fff" />
<rect x="137.70" y="520.10" width="5.50" height="3.20" fill="#fff" />
<rect x="130.20" y="449.80" width="5.00" height="33.40" fill="#fff" />
<rect x="130.20" y="488.00" width="5.00" height="32.60" fill="#fff" />
<rect x="146.40" y="442.00" width="24.90" height="83.80" fill="#000" />
<polygon points="156.60,442.00 158.80,444.60 161.00,442.00" fill="#fff" />
<rect x="148.40" y="444.70" width="5.50" height="3.20" fill="#fff" />
<rect x="163.80" y="444.70" width="5.50" height="3.20" fill="#fff" />
<rect x="148.40" y="450.50" width="5.50" height="3.20" fill="#fff" />
<rect x="163.80" y="450.50" width="5.50" height="3.20" fill="#fff" />
<rect x="148.40" y="456.30" width="5.50" height="3.20" fill="#fff" />
<rect x="163.80" y="456.30" width="5.50" height="3.20" fill="#fff" />
<rect x="148.40" y="462.10" width="5.50" height="3.20" fill="#fff" />
<rect x="163.80" y="462.10" width="5.50" height="3.20" fill="#fff" />
<rect x="148.40" y="467.90" width="5.50" height="3.20" fill="#fff" />
<rect x="163.80" y="467.90" width="5.50" height="3.20" fill="#fff" />
<rect x="148.40" y="473.70" width="5.50" height="3.20" fill="#fff" />
<rect x="163.80" y="473.70" width="5.50" height="3.20" fill="#fff" />
<rect x="148.40" y="479.50" width="5.50" height="3.20" fill="#fff" />
<rect x="163.80" y="479.50" width="5.50" height="3.20" fill="#fff" />
<rect x="148.40" y="485.30" width="5.50" height="3.20" fill="#fff" />
<rect x="163.80" y="485.30" width="5.50" height="3.20" fill="#fff" />
<rect x="148.40" y="491.10" width="5.50" height="3.20" fill="#fff" />
<rect x="163.80" y="491.10" width="5.50" height="3.20" fill="#fff" />
<rect x="148.40" y="496.90" width="5.50" height="3.20" fill="#fff" />
<rect x="163.80" y="496.90" width="5.50" height="3.20" fill="#fff" />
<rect x="148.40" y="502.70" width="5.50" height="3.20" fill="#fff" />
<rect x="163.80" y="502.70" width="5.50" height="3.20" fill="#fff" />
<rect x="148.40" y="508.50" width="5.50" height="3.20" fill="#fff" />
<rect x="163.80" y="508.50" width="5.50" height="3.20" fill="#fff" />
<rect x="148.40" y="514.30" width="5.50" height="3.20" fill="#fff" />
<rect x="163.80" y="514.30" width="5.50" height="3.20" fill="#fff" />
<rect x="148.40" y="520.10" width="5.50" height="3.20" fill="#fff" />
<rect x="163.80" y="520.10" width="5.50" height="3.20" fill="#fff" />
<rect x="156.30" y="449.80" width="5.00" height="33.40" fill="#fff" />
<rect x="156.30" y="488.00" width="5.00" height="32.60" fill="#fff" />
<rect x="172.50" y="442.00" width="24.90" height="83.80" fill="#000" />
<polygon points="182.70,442.00 184.90,444.60 187.10,442.00" fill="#fff" />
<rect x="174.50" y="444.70" width="5.50" height="3.20" fill="#fff" />
<rect x="189.90" y="444.70" width="5.50" height="3.20" fill="#fff" />
<rect x="174.50" y="450.50" width="5.50" height="3.20" fill="#fff" />
<rect x="189.90" y="450.50" width="5.50" height="3.20" fill="#fff" />
<rect x="174.50" y="456.30" width="5.50" height="3.20" fill="#fff" />
<rect x="189.90" y="456.30" width="5.50" height="3.20" fill="#fff" />
<rect x="174.50" y="462.10" width="5.50" height="3.20" fill="#fff" />
<rect x="189.90" y="462.10" width="5.50" height="3.20" fill="#fff" />
<rect x="174.50" y="467.90" width="5.50" height="3.20" fill="#fff" />
<rect x="189.90" y="467.90" width="5.50" height="3.20" fill="#fff" />
<rect x="174.50" y="473.70" width="5.50" height="3.20" fill="#fff" />
<rect x="189.90" y="473.70" width="5.50" height="3.20" fill="#fff" />
<rect x="174.50" y="479.50" width="5.50" height="3.20" fill="#fff" />
<rect x="189.90" y="479.50" width="5.50" height="3.20" fill="#fff" />
<rect x="174.50" y="485.30" width="5.50" height="3.20" fill="#fff" />
<rect x="189.90" y="485.30" width="5.50" height="3.20" fill="#fff" />
<rect x="174.50" y="491.10" width="5.50" height="3.20" fill="#fff" />
<rect x="189.90" y="491.10" width="5.50" height="3.20" fill="#fff" />
<rect x="174.50" y="496.90" width="5.50" height="3.20" fill="#fff" />
<rect x="189.90" y="496.90" width="5.50" height="3.20" fill="#fff" />
<rect x="174.50" y="502.70" width="5.50" height="3.20" fill="#fff" />
<rect x="189.90" y="502.70" width="5.50" height="3.20" fill="#fff" />
<rect x="174.50" y="508.50" width="5.50" height="3.20" fill="#fff" />
<rect x="189.90" y="508.50" width="5.50" height="3.20" fill="#fff" />
<rect x="174.50" y="514.30" width="5.50" height="3.20" fill="#fff" />
<rect x="189.90" y="514.30" width="5.50" height="3.20" fill="#fff" />
<rect x="174.50" y="520.10" width="5.50" height="3.20" fill="#fff" />
<rect x="189.90" y="520.10" width="5.50" height="3.20" fill="#fff" />
<rect x="182.40" y="449.80" width="5.00" height="33.40" fill="#fff" />
<rect x="182.40" y="488.00" width="5.00" height="32.60" fill="#fff" />
<rect x="198.60" y="442.00" width="24.90" height="83.80" fill="#000" />
<polygon points="208.80,442.00 211.00,444.60 213.20,442.00" fill="#fff" />
<rect x="200.60" y="444.70" width="5.50" height="3.20" fill="#fff" />
<rect x="216.00" y="444.70" width="5.50" height="3.20" fill="#fff" />
<rect x="200.60" y="450.50" width="5.50" height="3.20" fill="#fff" />
<rect x="216.00" y="450.50" width="5.50" height="3.20" fill="#fff" />
<rect x="200.60" y="456.30" width="5.50" height="3.20" fill="#fff" />
<rect x="216.00" y="456.30" width="5.50" height="3.20" fill="#fff" />
<rect x="200.60" y="462.10" width="5.50" height="3.20" fill="#fff" />
<rect x="216.00" y="462.10" width="5.50" height="3.20" fill="#fff" />
<rect x="200.60" y="467.90" width="5.50" height="3.20" fill="#fff" />
<rect x="216.00" y="467.90" width="5.50" height="3.20" fill="#fff" />
<rect x="200.60" y="473.70" width="5.50" height="3.20" fill="#fff" />
<rect x="216.00" y="473.70" width="5.50" height="3.20" fill="#fff" />
<rect x="200.60" y="479.50" width="5.50" height="3.20" fill="#fff" />
<rect x="216.00" y="479.50" width="5.50" height="3.20" fill="#fff" />
<rect x="200.60" y="485.30" width="5.50" height="3.20" fill="#fff" />
<rect x="216.00" y="485.30" width="5.50" height="3.20" fill="#fff" />
<rect x="200.60" y="491.10" width="5.50" height="3.20" fill="#fff" />
<rect x="216.00" y="491.10" width="5.50" height="3.20" fill="#fff" />
<rect x="200.60" y="496.90" width="5.50" height="3.20" fill="#fff" />
<rect x="216.00" y="496.90" width="5.50" height="3.20" fill="#fff" />
<rect x="200.60" y="502.70" width="5.50" height="3.20" fill="#fff" />
<rect x="216.00" y="502.70" width="5.50" height="3.20" fill="#fff" />
<rect x="200.60" y="508.50" width="5.50" height="3.20" fill="#fff" />
<rect x="216.00" y="508.50" width="5.50" height="3.20" fill="#fff" />
<rect x="200.60" y="514.30" width="5.50" height="3.20" fill="#fff" />
<rect x="216.00" y="514.30" width="5.50" height="3.20" fill="#fff" />
<rect x="200.60" y="520.10" width="5.50" height="3.20" fill="#fff" />
<rect x="216.00" y="520.10" width="5.50" height="3.20" fill="#fff" />
<rect x="208.50" y="449.80" width="5.00" height="33.40" fill="#fff" />
<rect x="208.50" y="488.00" width="5.00" height="32.60" fill="#fff" />
<rect x="224.70" y="442.00" width="24.90" height="83.80" fill="#000" />
<polygon points="234.90,442.00 237.10,444.60 239.30,442.00" fill="#fff" />
<rect x="226.70" y="444.70" width="5.50" height="3.20" fill="#fff" />
<rect x="242.10" y="444.70" width="5.50" height="3.20" fill="#fff" />
<rect x="226.70" y="450.50" width="5.50" height="3.20" fill="#fff" />
<rect x="242.10" y="450.50" width="5.50" height="3.20" fill="#fff" />
<rect x="226.70" y="456.30" width="5.50" height="3.20" fill="#fff" />
<rect x="242.10" y="456.30" width="5.50" height="3.20" fill="#fff" />
<rect x="226.70" y="462.10" width="5.50" height="3.20" fill="#fff" />
<rect x="242.10" y="462.10" width="5.50" height="3.20" fill="#fff" />
<rect x="226.70" y="467.90" width="5.50" height="3.20" fill="#fff" />
<rect x="242.10" y="467.90" width="5.50" height="3.20" fill="#fff" />
<rect x="226.70" y="473.70" width="5.50" height="3.20" fill="#fff" />
<rect x="242.10" y="473.70" width="5.50" height="3.20" fill="#fff" />
<rect x="226.70" y="479.50" width="5.50" height="3.20" fill="#fff" />
<rect x="242.10" y="479.50" width="5.50" height="3.20" fill="#fff" />
<rect x="226.70" y="485.30" width="5.50" height="3.20" fill="#fff" />
<rect x="242.10" y="485.30" width="5.50" height="3.20" fill="#fff" />
<rect x="226.70" y="491.10" width="5.50" height="3.20" fill="#fff" />
<rect x="242.10" y="491.10" width="5.50" height="3.20" fill="#fff" />
<rect x="226.70" y="496.90" width="5.50" height="3.20" fill="#fff" />
<rect x="242.10" y="496.90" width="5.50" height="3.20" fill="#fff" />
<rect x="226.70" y="502.70" width="5.50" height="3.20" fill="#fff" />
<rect x="242.10" y="502.70" width="5.50" height="3.20" fill="#fff" />
<rect x="226.70" y="508.50" width="5.50" height="3.20" fill="#fff" />
<rect x="242.10" y="508.50" width="5.50" height="3.20" fill="#fff" />
<rect x="226.70" y="514.30" width="5.50" height="3.20" fill="#fff" />
<rect x="242.10" y="514.30" width="5.50" height="3.20" fill="#fff" />
<rect x="226.70" y="520.10" width="5.50" height="3.20" fill="#fff" />
<rect x="242.10" y="520.10" width="5.50" height="3.20" fill="#fff" />
<rect x="234.60" y="449.80" width="5.00" height="33.40" fill="#fff" />
<rect x="234.60" y="488.00" width="5.00" height="32.60" fill="#fff" />
<rect x="250.80" y="442.00" width="24.90" height="83.80" fill="#000" />
<polygon points="261.00,442.00 263.20,444.60 265.40,442.00" fill="#fff" />
<rect x="252.80" y="444.70" width="5.50" height="3.20" fill="#fff" />
<rect x="268.20" y="444.70" width="5.50" height="3.20" fill="#fff" />
<rect x="252.80" y="450.50" width="5.50" height="3.20" fill="#fff" />
<rect x="268.20" y="450.50" width="5.50" height="3.20" fill="#fff" />
<rect x="252.80" y="456.30" width="5.50" height="3.20" fill="#fff" />
<rect x="268.20" y="456.30" width="5.50" height="3.20" fill="#fff" />
<rect x="252.80" y="462.10" width="5.50" height="3.20" fill="#fff" />
<rect x="268.20" y="462.10" width="5.50" height="3.20" fill="#fff" />
<rect x="252.80" y="467.90" width="5.50" height="3.20" fill="#fff" />
<rect x="268.20" y="467.90" width="5.50" height="3.20" fill="#fff" />
<rect x="252.80" y="473.70" width="5.50" height="3.20" fill="#fff" />
<rect x="268.20" y="473.70" width="5.50" height="3.20" fill="#fff" />
<rect x="252.80" y="479.50" width="5.50" height="3.20" fill="#fff" />
<rect x="268.20" y="479.50" width="5.50" height="3.20" fill="#fff" />
<rect x="252.80" y="485.30" width="5.50" height="3.20" fill="#fff" />
<rect x="268.20" y="485.30" width="5.50" height="3.20" fill="#fff" />
<rect x="252.80" y="491.10" width="5.50" height="3.20" fill="#fff" />
<rect x="268.20" y="491.10" width="5.50" height="3.20" fill="#fff" />
<rect x="252.80" y="496.90" width="5.50" height="3.20" fill="#fff" />
<rect x="268.20" y="496.90" width="5.50" height="3.20" fill="#fff" />
<rect x="252.80" y="502.70" width="5.50" height="3.20" fill="#fff" />
<rect x="268.20" y="502.70" width="5.50" height="3.20" fill="#fff" />
<rect x="252.80" y="508.50" width="5.50" height="3.20" fill="#fff" />
<rect x="268.20" y="508.50" width="5.50" height="3.20" fill="#fff" />
<rect x="252.80" y="514.30" width="5.50" height="3.20" fill="#fff" />
<rect x="268.20" y="514.30" width="5.50" height="3.20" fill="#fff" />
<rect x="252.80" y="520.10" width="5.50" height="3.20" fill="#fff" />
<rect x="268.20" y="520.10" width="5.50" height="3.20" fill="#fff" />
<rect x="260.70" y="449.80" width="5.00" height="33.40" fill="#fff" />
<rect x="260.70" y="488.00" width="5.00" height="32.60" fill="#fff" />
<rect x="276.90" y="442.00" width="24.90" height="83.80" fill="#000" />
<polygon points="287.10,442.00 289.30,444.60 291.50,442.00" fill="#fff" />
<rect x="278.90" y="444.70" width="5.50" height="3.20" fill="#fff" />
<rect x="294.30" y="444.70" width="5.50" height="3.20" fill="#fff" />
<rect x="278.90" y="450.50" width="5.50" height="3.20" fill="#fff" />
<rect x="294.30" y="450.50" width="5.50" height="3.20" fill="#fff" />
<rect x="278.90" y="456.30" width="5.50" height="3.20" fill="#fff" />
<rect x="294.30" y="456.30" width="5.50" height="3.20" fill="#fff" />
<rect x="278.90" y="462.10" width="5.50" height="3.20" fill="#fff" />
<rect x="294.30" y="462.10" width="5.50" height="3.20" fill="#fff" />
<rect x="278.90" y="467.90" width="5.50" height="3.20" fill="#fff" />
<rect x="294.30" y="467.90" width="5.50" height="3.20" fill="#fff" />
<rect x="278.90" y="473.70" width="5.50" height="3.20" fill="#fff" />
<rect x="294.30" y="473.70" width="5.50" height="3.20" fill="#fff" />
<rect x="278.90" y="479.50" width="5.50" height="3.20" fill="#fff" />
<rect x="294.30" y="479.50" width="5.50" height="3.20" fill="#fff" />
<rect x="278.90" y="485.30" width="5.50" height="3.20" fill="#fff" />
<rect x="294.30" y="485.30" width="5.50" height="3.20" fill="#fff" />
<rect x="278.90" y="491.10" width="5.50" height="3.20" fill="#fff" />
<rect x="294.30" y="491.10" width="5.50" height="3.20" fill="#fff" />
<rect x="278.90" y="496.90" width="5.50" height="3.20" fill="#fff" />
<rect x="294.30" y="496.90" width="5.50" height="3.20" fill="#fff" />
<rect x="278.90" y="502.70" width="5.50" height="3.20" fill="#fff" />
<rect x="294.30" y="502.70" width="5.50" height="3.20" fill="#fff" />
<rect x="278.90" y="508.50" width="5.50" height="3.20" fill="#fff" />
<rect x="294.30" y="508.50" width="5.50" height="3.20" fill="#fff" />
<rect x="278.90" y="514.30" width="5.50" height="3.20" fill="#fff" />
<rect x="294.30" y="514.30" width="5.50" height="3.20" fill="#fff" />
<rect x="278.90" y="520.10" width="5.50" height="3.20" fill="#fff" />
<rect x="294.30" y="520.10" width="5.50" height="3.20" fill="#fff" />
<rect x="286.80" y="449.80" width="5.00" height="33.40" fill="#fff" />
<rect x="286.80" y="488.00" width="5.00" height="32.60" fill="#fff" />
<rect x="117.60" y="476.30" width="56.70" height="15.20" fill="#000" rx="2.5"/>
<rect x="118.40" y="477.10" width="55.10" height="13.60" fill="#fff" rx="2"/>
<text x="145.35" y="488.80" font-size="13" text-anchor="middle" letter-spacing="0.45" >BANK 1</text>
<rect x="222.30" y="476.30" width="56.30" height="15.20" fill="#000" rx="2.5"/>
<rect x="223.10" y="477.10" width="54.70" height="13.60" fill="#fff" rx="2"/>
<text x="249.85" y="488.80" font-size="13" text-anchor="middle" letter-spacing="0.45" >BANK 0</text>
<rect x="317.20" y="421.00" width="13.80" height="13.00" fill="#000" />
<rect x="318.10" y="422.30" width="1.00" height="3.90" fill="#fff" />
<rect x="318.10" y="428.00" width="1.00" height="4.80" fill="#fff" />
<rect x="323.00" y="422.30" width="2.30" height="3.90" fill="#fff" />
<rect x="323.00" y="428.00" width="2.30" height="4.80" fill="#fff" />
<rect x="329.00" y="422.30" width="1.00" height="3.90" fill="#fff" />
<rect x="329.00" y="428.00" width="1.00" height="4.80" fill="#fff" />
<rect x="341.00" y="419.30" width="119.00" height="12.50" fill="#000" />
<rect x="342.00" y="420.30" width="117.00" height="10.50" fill="#fff" />
<rect x="342.90" y="421.00" width="4.04" height="3.90" fill="#000" />
<rect x="342.90" y="426.30" width="4.04" height="4.00" fill="#000" />
<rect x="343.90" y="427.30" width="1.84" height="1.90" fill="#fff" />
<rect x="348.69" y="421.00" width="4.04" height="3.90" fill="#000" />
<rect x="348.69" y="426.30" width="4.04" height="4.00" fill="#000" />
<rect x="354.48" y="421.00" width="4.04" height="3.90" fill="#000" />
<rect x="354.48" y="426.30" width="4.04" height="4.00" fill="#000" />
<rect x="360.27" y="421.00" width="4.04" height="3.90" fill="#000" />
<rect x="360.27" y="426.30" width="4.04" height="4.00" fill="#000" />
<rect x="366.06" y="421.00" width="4.04" height="3.90" fill="#000" />
<rect x="366.06" y="426.30" width="4.04" height="4.00" fill="#000" />
<rect x="371.85" y="421.00" width="4.04" height="3.90" fill="#000" />
<rect x="371.85" y="426.30" width="4.04" height="4.00" fill="#000" />
<rect x="377.64" y="421.00" width="4.04" height="3.90" fill="#000" />
<rect x="377.64" y="426.30" width="4.04" height="4.00" fill="#000" />
<rect x="383.43" y="421.00" width="4.04" height="3.90" fill="#000" />
<rect x="383.43" y="426.30" width="4.04" height="4.00" fill="#000" />
<rect x="389.22" y="421.00" width="4.04" height="3.90" fill="#000" />
<rect x="389.22" y="426.30" width="4.04" height="4.00" fill="#000" />
<rect x="395.01" y="421.00" width="4.04" height="3.90" fill="#000" />
<rect x="395.01" y="426.30" width="4.04" height="4.00" fill="#000" />
<rect x="400.80" y="421.00" width="4.04" height="3.90" fill="#000" />
<rect x="400.80" y="426.30" width="4.04" height="4.00" fill="#000" />
<rect x="406.59" y="421.00" width="4.04" height="3.90" fill="#000" />
<rect x="406.59" y="426.30" width="4.04" height="4.00" fill="#000" />
<rect x="412.38" y="421.00" width="4.04" height="3.90" fill="#000" />
<rect x="412.38" y="426.30" width="4.04" height="4.00" fill="#000" />
<rect x="418.17" y="421.00" width="4.04" height="3.90" fill="#000" />
<rect x="418.17" y="426.30" width="4.04" height="4.00" fill="#000" />
<rect x="423.96" y="421.00" width="4.04" height="3.90" fill="#000" />
<rect x="423.96" y="426.30" width="4.04" height="4.00" fill="#000" />
<rect x="429.75" y="421.00" width="4.04" height="3.90" fill="#000" />
<rect x="429.75" y="426.30" width="4.04" height="4.00" fill="#000" />
<rect x="435.54" y="421.00" width="4.04" height="3.90" fill="#000" />
<rect x="435.54" y="426.30" width="4.04" height="4.00" fill="#000" />
<rect x="441.33" y="421.00" width="4.04" height="3.90" fill="#000" />
<rect x="441.33" y="426.30" width="4.04" height="4.00" fill="#000" />
<rect x="447.12" y="421.00" width="4.04" height="3.90" fill="#000" />
<rect x="447.12" y="426.30" width="4.04" height="4.00" fill="#000" />
<rect x="452.91" y="421.00" width="4.04" height="3.90" fill="#000" />
<rect x="452.91" y="426.30" width="4.04" height="4.00" fill="#000" />
<rect x="341.00" y="434.40" width="119.00" height="12.60" fill="#000" />
<rect x="342.00" y="435.40" width="117.00" height="10.60" fill="#fff" />
<rect x="342.90" y="436.10" width="4.04" height="3.90" fill="#000" />
<rect x="342.90" y="441.40" width="4.04" height="4.10" fill="#000" />
<rect x="343.90" y="442.40" width="1.84" height="2.00" fill="#fff" />
<rect x="348.69" y="436.10" width="4.04" height="3.90" fill="#000" />
<rect x="348.69" y="441.30" width="4.04" height="4.70" fill="#000" />
<rect x="354.48" y="436.10" width="4.04" height="3.90" fill="#000" />
<rect x="354.48" y="441.30" width="4.04" height="4.70" fill="#000" />
<rect x="360.27" y="436.10" width="4.04" height="3.90" fill="#000" />
<rect x="360.27" y="441.30" width="4.04" height="4.70" fill="#000" />
<rect x="366.06" y="436.10" width="4.04" height="3.90" fill="#000" />
<rect x="366.06" y="441.30" width="4.04" height="4.70" fill="#000" />
<rect x="371.85" y="436.10" width="4.04" height="3.90" fill="#000" />
<rect x="371.85" y="441.30" width="4.04" height="4.70" fill="#000" />
<rect x="377.64" y="436.10" width="4.04" height="3.90" fill="#000" />
<rect x="377.64" y="441.30" width="4.04" height="4.70" fill="#000" />
<rect x="383.43" y="436.10" width="4.04" height="3.90" fill="#000" />
<rect x="383.43" y="441.30" width="4.04" height="4.70" fill="#000" />
<rect x="389.22" y="436.10" width="4.04" height="3.90" fill="#000" />
<rect x="389.22" y="441.30" width="4.04" height="4.70" fill="#000" />
<rect x="395.01" y="436.10" width="4.04" height="3.90" fill="#000" />
<rect x="395.01" y="441.30" width="4.04" height="4.70" fill="#000" />
<rect x="400.80" y="436.10" width="4.04" height="3.90" fill="#000" />
<rect x="400.80" y="441.30" width="4.04" height="4.70" fill="#000" />
<rect x="406.59" y="436.10" width="4.04" height="3.90" fill="#000" />
<rect x="406.59" y="441.30" width="4.04" height="4.70" fill="#000" />
<rect x="412.38" y="436.10" width="4.04" height="3.90" fill="#000" />
<rect x="412.38" y="441.30" width="4.04" height="4.70" fill="#000" />
<rect x="418.17" y="436.10" width="4.04" height="3.90" fill="#000" />
<rect x="418.17" y="441.30" width="4.04" height="4.70" fill="#000" />
<rect x="423.96" y="436.10" width="4.04" height="3.90" fill="#000" />
<rect x="423.96" y="441.30" width="4.04" height="4.70" fill="#000" />
<rect x="429.75" y="436.10" width="4.04" height="3.90" fill="#000" />
<rect x="429.75" y="441.30" width="4.04" height="4.70" fill="#000" />
<rect x="435.54" y="436.10" width="4.04" height="3.90" fill="#000" />
<rect x="435.54" y="441.30" width="4.04" height="4.70" fill="#000" />
<rect x="441.33" y="436.10" width="4.04" height="3.90" fill="#000" />
<rect x="441.33" y="441.30" width="4.04" height="4.70" fill="#000" />
<rect x="447.12" y="436.10" width="4.04" height="3.90" fill="#000" />
<rect x="447.12" y="441.30" width="4.04" height="4.70" fill="#000" />
<rect x="452.91" y="436.10" width="4.04" height="3.90" fill="#000" />
<rect x="452.91" y="441.30" width="4.04" height="4.70" fill="#000" />
<rect x="470.10" y="419.30" width="100.90" height="12.50" fill="#000" />
<rect x="471.10" y="420.30" width="98.90" height="10.50" fill="#fff" />
<rect x="472.00" y="421.00" width="4.00" height="3.90" fill="#000" />
<rect x="472.00" y="426.30" width="4.00" height="4.00" fill="#000" />
<rect x="473.00" y="427.30" width="1.80" height="1.90" fill="#fff" />
<rect x="477.75" y="421.00" width="4.00" height="3.90" fill="#000" />
<rect x="477.75" y="426.30" width="4.00" height="4.00" fill="#000" />
<rect x="483.49" y="421.00" width="4.00" height="3.90" fill="#000" />
<rect x="483.49" y="426.30" width="4.00" height="4.00" fill="#000" />
<rect x="489.24" y="421.00" width="4.00" height="3.90" fill="#000" />
<rect x="489.24" y="426.30" width="4.00" height="4.00" fill="#000" />
<rect x="494.99" y="421.00" width="4.00" height="3.90" fill="#000" />
<rect x="494.99" y="426.30" width="4.00" height="4.00" fill="#000" />
<rect x="500.74" y="421.00" width="4.00" height="3.90" fill="#000" />
<rect x="500.74" y="426.30" width="4.00" height="4.00" fill="#000" />
<rect x="506.48" y="421.00" width="4.00" height="3.90" fill="#000" />
<rect x="506.48" y="426.30" width="4.00" height="4.00" fill="#000" />
<rect x="512.23" y="421.00" width="4.00" height="3.90" fill="#000" />
<rect x="512.23" y="426.30" width="4.00" height="4.00" fill="#000" />
<rect x="517.98" y="421.00" width="4.00" height="3.90" fill="#000" />
<rect x="517.98" y="426.30" width="4.00" height="4.00" fill="#000" />
<rect x="523.72" y="421.00" width="4.00" height="3.90" fill="#000" />
<rect x="523.72" y="426.30" width="4.00" height="4.00" fill="#000" />
<rect x="529.47" y="421.00" width="4.00" height="3.90" fill="#000" />
<rect x="529.47" y="426.30" width="4.00" height="4.00" fill="#000" />
<rect x="535.22" y="421.00" width="4.00" height="3.90" fill="#000" />
<rect x="535.22" y="426.30" width="4.00" height="4.00" fill="#000" />
<rect x="540.96" y="421.00" width="4.00" height="3.90" fill="#000" />
<rect x="540.96" y="426.30" width="4.00" height="4.00" fill="#000" />
<rect x="546.71" y="421.00" width="4.00" height="3.90" fill="#000" />
<rect x="546.71" y="426.30" width="4.00" height="4.00" fill="#000" />
<rect x="552.46" y="421.00" width="4.00" height="3.90" fill="#000" />
<rect x="552.46" y="426.30" width="4.00" height="4.00" fill="#000" />
<rect x="558.21" y="421.00" width="4.00" height="3.90" fill="#000" />
<rect x="558.21" y="426.30" width="4.00" height="4.00" fill="#000" />
<rect x="563.95" y="421.00" width="4.00" height="3.90" fill="#000" />
<rect x="563.95" y="426.30" width="4.00" height="4.00" fill="#000" />
<rect x="470.10" y="434.40" width="77.90" height="12.60" fill="#000" />
<rect x="471.10" y="435.40" width="75.90" height="10.60" fill="#fff" />
<rect x="472.00" y="436.10" width="4.00" height="3.90" fill="#000" />
<rect x="472.00" y="441.40" width="4.00" height="4.10" fill="#000" />
<rect x="473.00" y="442.40" width="1.80" height="2.00" fill="#fff" />
<rect x="477.75" y="436.10" width="4.00" height="3.90" fill="#000" />
<rect x="477.75" y="441.30" width="4.00" height="4.70" fill="#000" />
<rect x="483.49" y="436.10" width="4.00" height="3.90" fill="#000" />
<rect x="483.49" y="441.30" width="4.00" height="4.70" fill="#000" />
<rect x="489.24" y="436.10" width="4.00" height="3.90" fill="#000" />
<rect x="489.24" y="441.30" width="4.00" height="4.70" fill="#000" />
<rect x="494.98" y="436.10" width="4.00" height="3.90" fill="#000" />
<rect x="494.98" y="441.30" width="4.00" height="4.70" fill="#000" />
<rect x="500.73" y="436.10" width="4.00" height="3.90" fill="#000" />
<rect x="500.73" y="441.30" width="4.00" height="4.70" fill="#000" />
<rect x="506.48" y="436.10" width="4.00" height="3.90" fill="#000" />
<rect x="506.48" y="441.30" width="4.00" height="4.70" fill="#000" />
<rect x="512.22" y="436.10" width="4.00" height="3.90" fill="#000" />
<rect x="512.22" y="441.30" width="4.00" height="4.70" fill="#000" />
<rect x="517.97" y="436.10" width="4.00" height="3.90" fill="#000" />
<rect x="517.97" y="441.30" width="4.00" height="4.70" fill="#000" />
<rect x="523.72" y="436.10" width="4.00" height="3.90" fill="#000" />
<rect x="523.72" y="441.30" width="4.00" height="4.70" fill="#000" />
<rect x="529.46" y="436.10" width="4.00" height="3.90" fill="#000" />
<rect x="529.46" y="441.30" width="4.00" height="4.70" fill="#000" />
<rect x="535.21" y="436.10" width="4.00" height="3.90" fill="#000" />
<rect x="535.21" y="441.30" width="4.00" height="4.70" fill="#000" />
<rect x="540.95" y="436.10" width="4.00" height="3.90" fill="#000" />
<rect x="540.95" y="441.30" width="4.00" height="4.70" fill="#000" />
<rect x="580.30" y="419.30" width="30.70" height="12.50" fill="#000" />
<rect x="581.30" y="420.30" width="28.70" height="10.50" fill="#fff" />
<rect x="582.20" y="421.00" width="3.75" height="3.90" fill="#000" />
<rect x="582.20" y="426.30" width="3.75" height="4.00" fill="#000" />
<rect x="583.20" y="427.30" width="1.55" height="1.90" fill="#fff" />
<rect x="587.70" y="421.00" width="3.75" height="3.90" fill="#000" />
<rect x="587.70" y="426.20" width="3.75" height="4.60" fill="#000" />
<rect x="593.20" y="421.00" width="3.75" height="3.90" fill="#000" />
<rect x="593.20" y="426.20" width="3.75" height="4.60" fill="#000" />
<rect x="598.70" y="421.00" width="3.75" height="3.90" fill="#000" />
<rect x="598.70" y="426.20" width="3.75" height="4.60" fill="#000" />
<rect x="604.20" y="421.00" width="3.75" height="3.90" fill="#000" />
<rect x="604.20" y="426.20" width="3.75" height="4.60" fill="#000" />
<rect x="580.30" y="434.40" width="30.70" height="12.60" fill="#000" />
<rect x="581.30" y="435.40" width="28.70" height="10.60" fill="#fff" />
<rect x="582.20" y="436.10" width="3.75" height="3.90" fill="#000" />
<rect x="582.20" y="441.40" width="3.75" height="4.10" fill="#000" />
<rect x="583.20" y="442.40" width="1.55" height="2.00" fill="#fff" />
<rect x="587.70" y="436.10" width="3.75" height="3.90" fill="#000" />
<rect x="587.70" y="441.30" width="3.75" height="4.70" fill="#000" />
<rect x="593.20" y="436.10" width="3.75" height="3.90" fill="#000" />
<rect x="593.20" y="441.30" width="3.75" height="4.70" fill="#000" />
<rect x="598.70" y="436.10" width="3.75" height="3.90" fill="#000" />
<rect x="598.70" y="441.30" width="3.75" height="4.70" fill="#000" />
<rect x="604.20" y="436.10" width="3.75" height="3.90" fill="#000" />
<rect x="604.20" y="441.30" width="3.75" height="4.70" fill="#000" />
<rect x="339.00" y="459.00" width="278.00" height="15.60" fill="#000" />
<rect x="340.00" y="460.00" width="276.00" height="14.00" fill="#fff" />
<rect x="596.00" y="461.00" width="13.00" height="1.00" fill="#000" />
<rect x="596.00" y="461.00" width="1.00" height="8.00" fill="#000" />
<rect x="598.00" y="466.00" width="6.00" height="1.00" fill="#000" />
<rect x="598.00" y="466.00" width="1.00" height="7.00" fill="#000" />
<rect x="603.00" y="467.00" width="1.00" height="4.00" fill="#000" />
<rect x="603.00" y="470.00" width="3.00" height="1.00" fill="#000" />
<rect x="598.00" y="472.00" width="8.00" height="1.00" fill="#000" />
<rect x="606.00" y="461.00" width="2.00" height="12.00" fill="#000" />
<rect x="609.00" y="460.00" width="1.00" height="14.00" fill="#000" />
<rect x="610.00" y="463.00" width="6.00" height="1.00" fill="#000" />
<rect x="610.00" y="468.00" width="6.00" height="1.00" fill="#000" />
<rect x="347.00" y="461.00" width="13.00" height="1.00" fill="#000" />
<rect x="359.00" y="461.00" width="1.00" height="8.00" fill="#000" />
<rect x="352.00" y="466.00" width="6.00" height="1.00" fill="#000" />
<rect x="357.00" y="466.00" width="1.00" height="7.00" fill="#000" />
<rect x="352.00" y="467.00" width="1.00" height="4.00" fill="#000" />
<rect x="350.00" y="470.00" width="3.00" height="1.00" fill="#000" />
<rect x="350.00" y="472.00" width="8.00" height="1.00" fill="#000" />
<rect x="348.00" y="461.00" width="2.00" height="12.00" fill="#000" />
<rect x="346.00" y="460.00" width="1.00" height="14.00" fill="#000" />
<rect x="340.00" y="463.00" width="6.00" height="1.00" fill="#000" />
<rect x="340.00" y="468.00" width="6.00" height="1.00" fill="#000" />
<rect x="362.00" y="461.00" width="232.00" height="7.00" fill="#000" />
<rect x="363.00" y="468.00" width="230.00" height="5.00" fill="#000" />
<rect x="363.60" y="462.60" width="1.00" height="4.60" fill="#fff" />
<rect x="365.93" y="462.60" width="1.00" height="4.60" fill="#fff" />
<rect x="368.26" y="462.60" width="1.00" height="4.60" fill="#fff" />
<rect x="370.59" y="462.60" width="1.00" height="4.60" fill="#fff" />
<rect x="372.92" y="462.60" width="1.00" height="4.60" fill="#fff" />
<rect x="375.25" y="462.60" width="1.00" height="4.60" fill="#fff" />
<rect x="377.58" y="462.60" width="1.00" height="4.60" fill="#fff" />
<rect x="379.91" y="462.60" width="1.00" height="4.60" fill="#fff" />
<rect x="382.24" y="462.60" width="1.00" height="4.60" fill="#fff" />
<rect x="384.57" y="462.60" width="1.00" height="4.60" fill="#fff" />
<rect x="386.90" y="462.60" width="1.00" height="4.60" fill="#fff" />
<rect x="389.23" y="462.60" width="1.00" height="4.60" fill="#fff" />
<rect x="391.56" y="462.60" width="1.00" height="4.60" fill="#fff" />
<rect x="393.89" y="462.60" width="1.00" height="4.60" fill="#fff" />
<rect x="396.22" y="462.60" width="1.00" height="4.60" fill="#fff" />
<rect x="398.55" y="462.60" width="1.00" height="4.60" fill="#fff" />
<rect x="400.88" y="462.60" width="1.00" height="4.60" fill="#fff" />
<rect x="403.21" y="462.60" width="1.00" height="4.60" fill="#fff" />
<rect x="405.54" y="462.60" width="1.00" height="4.60" fill="#fff" />
<rect x="407.87" y="462.60" width="1.00" height="4.60" fill="#fff" />
<rect x="410.20" y="462.60" width="1.00" height="4.60" fill="#fff" />
<rect x="412.53" y="462.60" width="1.00" height="4.60" fill="#fff" />
<rect x="414.86" y="462.60" width="1.00" height="4.60" fill="#fff" />
<rect x="417.19" y="462.60" width="1.00" height="4.60" fill="#fff" />
<rect x="419.52" y="462.60" width="1.00" height="4.60" fill="#fff" />
<rect x="421.85" y="462.60" width="1.00" height="4.60" fill="#fff" />
<rect x="424.18" y="462.60" width="1.00" height="4.60" fill="#fff" />
<rect x="426.51" y="462.60" width="1.00" height="4.60" fill="#fff" />
<rect x="428.84" y="462.60" width="1.00" height="4.60" fill="#fff" />
<rect x="431.17" y="462.60" width="1.00" height="4.60" fill="#fff" />
<rect x="433.50" y="462.60" width="1.00" height="4.60" fill="#fff" />
<rect x="435.83" y="462.60" width="1.00" height="4.60" fill="#fff" />
<rect x="438.16" y="462.60" width="1.00" height="4.60" fill="#fff" />
<rect x="440.49" y="462.60" width="1.00" height="4.60" fill="#fff" />
<rect x="442.82" y="462.60" width="1.00" height="4.60" fill="#fff" />
<rect x="445.15" y="462.60" width="1.00" height="4.60" fill="#fff" />
<rect x="447.48" y="462.60" width="1.00" height="4.60" fill="#fff" />
<rect x="449.81" y="462.60" width="1.00" height="4.60" fill="#fff" />
<rect x="452.14" y="462.60" width="1.00" height="4.60" fill="#fff" />
<rect x="454.47" y="462.60" width="1.00" height="4.60" fill="#fff" />
<rect x="456.80" y="462.60" width="1.00" height="4.60" fill="#fff" />
<rect x="459.13" y="462.60" width="1.00" height="4.60" fill="#fff" />
<rect x="461.46" y="462.60" width="1.00" height="4.60" fill="#fff" />
<rect x="463.79" y="462.60" width="1.00" height="4.60" fill="#fff" />
<rect x="466.12" y="462.60" width="1.00" height="4.60" fill="#fff" />
<rect x="468.45" y="462.60" width="1.00" height="4.60" fill="#fff" />
<rect x="470.78" y="462.60" width="1.00" height="4.60" fill="#fff" />
<rect x="473.11" y="462.60" width="1.00" height="4.60" fill="#fff" />
<rect x="475.44" y="462.60" width="1.00" height="4.60" fill="#fff" />
<rect x="477.77" y="462.60" width="1.00" height="4.60" fill="#fff" />
<rect x="480.10" y="462.60" width="1.00" height="4.60" fill="#fff" />
<rect x="482.43" y="462.60" width="1.00" height="4.60" fill="#fff" />
<rect x="484.76" y="462.60" width="1.00" height="4.60" fill="#fff" />
<rect x="487.09" y="462.60" width="1.00" height="4.60" fill="#fff" />
<rect x="489.42" y="462.60" width="1.00" height="4.60" fill="#fff" />
<rect x="491.75" y="462.60" width="1.00" height="4.60" fill="#fff" />
<rect x="494.08" y="462.60" width="1.00" height="4.60" fill="#fff" />
<rect x="496.41" y="462.60" width="1.00" height="4.60" fill="#fff" />
<rect x="498.74" y="462.60" width="1.00" height="4.60" fill="#fff" />
<rect x="501.07" y="462.60" width="1.00" height="4.60" fill="#fff" />
<rect x="503.40" y="462.60" width="1.00" height="4.60" fill="#fff" />
<rect x="505.73" y="462.60" width="1.00" height="4.60" fill="#fff" />
<rect x="508.06" y="462.60" width="1.00" height="4.60" fill="#fff" />
<rect x="510.39" y="462.60" width="1.00" height="4.60" fill="#fff" />
<rect x="512.72" y="462.60" width="1.00" height="4.60" fill="#fff" />
<rect x="515.05" y="462.60" width="1.00" height="4.60" fill="#fff" />
<rect x="517.38" y="462.60" width="1.00" height="4.60" fill="#fff" />
<rect x="519.71" y="462.60" width="1.00" height="4.60" fill="#fff" />
<rect x="522.04" y="462.60" width="1.00" height="4.60" fill="#fff" />
<rect x="524.37" y="462.60" width="1.00" height="4.60" fill="#fff" />
<rect x="526.70" y="462.60" width="1.00" height="4.60" fill="#fff" />
<rect x="529.03" y="462.60" width="1.00" height="4.60" fill="#fff" />
<rect x="531.36" y="462.60" width="1.00" height="4.60" fill="#fff" />
<rect x="533.69" y="462.60" width="1.00" height="4.60" fill="#fff" />
<rect x="536.02" y="462.60" width="1.00" height="4.60" fill="#fff" />
<rect x="538.35" y="462.60" width="1.00" height="4.60" fill="#fff" />
<rect x="540.68" y="462.60" width="1.00" height="4.60" fill="#fff" />
<rect x="543.01" y="462.60" width="1.00" height="4.60" fill="#fff" />
<rect x="545.34" y="462.60" width="1.00" height="4.60" fill="#fff" />
<rect x="547.67" y="462.60" width="1.00" height="4.60" fill="#fff" />
<rect x="550.00" y="462.60" width="1.00" height="4.60" fill="#fff" />
<rect x="552.33" y="462.60" width="1.00" height="4.60" fill="#fff" />
<rect x="554.66" y="462.60" width="1.00" height="4.60" fill="#fff" />
<rect x="556.99" y="462.60" width="1.00" height="4.60" fill="#fff" />
<rect x="559.32" y="462.60" width="1.00" height="4.60" fill="#fff" />
<rect x="561.65" y="462.60" width="1.00" height="4.60" fill="#fff" />
<rect x="563.98" y="462.60" width="1.00" height="4.60" fill="#fff" />
<rect x="566.31" y="462.60" width="1.00" height="4.60" fill="#fff" />
<rect x="568.64" y="462.60" width="1.00" height="4.60" fill="#fff" />
<rect x="570.97" y="462.60" width="1.00" height="4.60" fill="#fff" />
<rect x="573.30" y="462.60" width="1.00" height="4.60" fill="#fff" />
<rect x="575.63" y="462.60" width="1.00" height="4.60" fill="#fff" />
<rect x="577.96" y="462.60" width="1.00" height="4.60" fill="#fff" />
<rect x="580.29" y="462.60" width="1.00" height="4.60" fill="#fff" />
<rect x="582.62" y="462.60" width="1.00" height="4.60" fill="#fff" />
<rect x="584.95" y="462.60" width="1.00" height="4.60" fill="#fff" />
<rect x="587.28" y="462.60" width="1.00" height="4.60" fill="#fff" />
<rect x="589.61" y="462.60" width="1.00" height="4.60" fill="#fff" />
<rect x="591.94" y="462.60" width="1.00" height="4.60" fill="#fff" />
<rect x="451.30" y="457.70" width="56.20" height="17.00" fill="#000" rx="2.5"/>
<rect x="452.30" y="458.70" width="54.20" height="14.60" fill="#fff" rx="2"/>
<text x="479.20" y="471.20" font-size="13" text-anchor="middle" letter-spacing="0.75" >BANK 0</text>
<rect x="339.00" y="476.00" width="278.00" height="15.60" fill="#000" />
<rect x="340.00" y="477.00" width="276.00" height="14.00" fill="#fff" />
<rect x="596.00" y="478.00" width="13.00" height="1.00" fill="#000" />
<rect x="596.00" y="478.00" width="1.00" height="8.00" fill="#000" />
<rect x="598.00" y="483.00" width="6.00" height="1.00" fill="#000" />
<rect x="598.00" y="483.00" width="1.00" height="7.00" fill="#000" />
<rect x="603.00" y="484.00" width="1.00" height="4.00" fill="#000" />
<rect x="603.00" y="487.00" width="3.00" height="1.00" fill="#000" />
<rect x="598.00" y="489.00" width="8.00" height="1.00" fill="#000" />
<rect x="606.00" y="478.00" width="2.00" height="12.00" fill="#000" />
<rect x="609.00" y="477.00" width="1.00" height="14.00" fill="#000" />
<rect x="610.00" y="480.00" width="6.00" height="1.00" fill="#000" />
<rect x="610.00" y="485.00" width="6.00" height="1.00" fill="#000" />
<rect x="347.00" y="478.00" width="13.00" height="1.00" fill="#000" />
<rect x="359.00" y="478.00" width="1.00" height="8.00" fill="#000" />
<rect x="352.00" y="483.00" width="6.00" height="1.00" fill="#000" />
<rect x="357.00" y="483.00" width="1.00" height="7.00" fill="#000" />
<rect x="352.00" y="484.00" width="1.00" height="4.00" fill="#000" />
<rect x="350.00" y="487.00" width="3.00" height="1.00" fill="#000" />
<rect x="350.00" y="489.00" width="8.00" height="1.00" fill="#000" />
<rect x="348.00" y="478.00" width="2.00" height="12.00" fill="#000" />
<rect x="346.00" y="477.00" width="1.00" height="14.00" fill="#000" />
<rect x="340.00" y="480.00" width="6.00" height="1.00" fill="#000" />
<rect x="340.00" y="485.00" width="6.00" height="1.00" fill="#000" />
<rect x="362.00" y="478.00" width="232.00" height="7.00" fill="#000" />
<rect x="363.00" y="485.00" width="230.00" height="5.00" fill="#000" />
<rect x="363.60" y="479.60" width="1.00" height="4.60" fill="#fff" />
<rect x="365.93" y="479.60" width="1.00" height="4.60" fill="#fff" />
<rect x="368.26" y="479.60" width="1.00" height="4.60" fill="#fff" />
<rect x="370.59" y="479.60" width="1.00" height="4.60" fill="#fff" />
<rect x="372.92" y="479.60" width="1.00" height="4.60" fill="#fff" />
<rect x="375.25" y="479.60" width="1.00" height="4.60" fill="#fff" />
<rect x="377.58" y="479.60" width="1.00" height="4.60" fill="#fff" />
<rect x="379.91" y="479.60" width="1.00" height="4.60" fill="#fff" />
<rect x="382.24" y="479.60" width="1.00" height="4.60" fill="#fff" />
<rect x="384.57" y="479.60" width="1.00" height="4.60" fill="#fff" />
<rect x="386.90" y="479.60" width="1.00" height="4.60" fill="#fff" />
<rect x="389.23" y="479.60" width="1.00" height="4.60" fill="#fff" />
<rect x="391.56" y="479.60" width="1.00" height="4.60" fill="#fff" />
<rect x="393.89" y="479.60" width="1.00" height="4.60" fill="#fff" />
<rect x="396.22" y="479.60" width="1.00" height="4.60" fill="#fff" />
<rect x="398.55" y="479.60" width="1.00" height="4.60" fill="#fff" />
<rect x="400.88" y="479.60" width="1.00" height="4.60" fill="#fff" />
<rect x="403.21" y="479.60" width="1.00" height="4.60" fill="#fff" />
<rect x="405.54" y="479.60" width="1.00" height="4.60" fill="#fff" />
<rect x="407.87" y="479.60" width="1.00" height="4.60" fill="#fff" />
<rect x="410.20" y="479.60" width="1.00" height="4.60" fill="#fff" />
<rect x="412.53" y="479.60" width="1.00" height="4.60" fill="#fff" />
<rect x="414.86" y="479.60" width="1.00" height="4.60" fill="#fff" />
<rect x="417.19" y="479.60" width="1.00" height="4.60" fill="#fff" />
<rect x="419.52" y="479.60" width="1.00" height="4.60" fill="#fff" />
<rect x="421.85" y="479.60" width="1.00" height="4.60" fill="#fff" />
<rect x="424.18" y="479.60" width="1.00" height="4.60" fill="#fff" />
<rect x="426.51" y="479.60" width="1.00" height="4.60" fill="#fff" />
<rect x="428.84" y="479.60" width="1.00" height="4.60" fill="#fff" />
<rect x="431.17" y="479.60" width="1.00" height="4.60" fill="#fff" />
<rect x="433.50" y="479.60" width="1.00" height="4.60" fill="#fff" />
<rect x="435.83" y="479.60" width="1.00" height="4.60" fill="#fff" />
<rect x="438.16" y="479.60" width="1.00" height="4.60" fill="#fff" />
<rect x="440.49" y="479.60" width="1.00" height="4.60" fill="#fff" />
<rect x="442.82" y="479.60" width="1.00" height="4.60" fill="#fff" />
<rect x="445.15" y="479.60" width="1.00" height="4.60" fill="#fff" />
<rect x="447.48" y="479.60" width="1.00" height="4.60" fill="#fff" />
<rect x="449.81" y="479.60" width="1.00" height="4.60" fill="#fff" />
<rect x="452.14" y="479.60" width="1.00" height="4.60" fill="#fff" />
<rect x="454.47" y="479.60" width="1.00" height="4.60" fill="#fff" />
<rect x="456.80" y="479.60" width="1.00" height="4.60" fill="#fff" />
<rect x="459.13" y="479.60" width="1.00" height="4.60" fill="#fff" />
<rect x="461.46" y="479.60" width="1.00" height="4.60" fill="#fff" />
<rect x="463.79" y="479.60" width="1.00" height="4.60" fill="#fff" />
<rect x="466.12" y="479.60" width="1.00" height="4.60" fill="#fff" />
<rect x="468.45" y="479.60" width="1.00" height="4.60" fill="#fff" />
<rect x="470.78" y="479.60" width="1.00" height="4.60" fill="#fff" />
<rect x="473.11" y="479.60" width="1.00" height="4.60" fill="#fff" />
<rect x="475.44" y="479.60" width="1.00" height="4.60" fill="#fff" />
<rect x="477.77" y="479.60" width="1.00" height="4.60" fill="#fff" />
<rect x="480.10" y="479.60" width="1.00" height="4.60" fill="#fff" />
<rect x="482.43" y="479.60" width="1.00" height="4.60" fill="#fff" />
<rect x="484.76" y="479.60" width="1.00" height="4.60" fill="#fff" />
<rect x="487.09" y="479.60" width="1.00" height="4.60" fill="#fff" />
<rect x="489.42" y="479.60" width="1.00" height="4.60" fill="#fff" />
<rect x="491.75" y="479.60" width="1.00" height="4.60" fill="#fff" />
<rect x="494.08" y="479.60" width="1.00" height="4.60" fill="#fff" />
<rect x="496.41" y="479.60" width="1.00" height="4.60" fill="#fff" />
<rect x="498.74" y="479.60" width="1.00" height="4.60" fill="#fff" />
<rect x="501.07" y="479.60" width="1.00" height="4.60" fill="#fff" />
<rect x="503.40" y="479.60" width="1.00" height="4.60" fill="#fff" />
<rect x="505.73" y="479.60" width="1.00" height="4.60" fill="#fff" />
<rect x="508.06" y="479.60" width="1.00" height="4.60" fill="#fff" />
<rect x="510.39" y="479.60" width="1.00" height="4.60" fill="#fff" />
<rect x="512.72" y="479.60" width="1.00" height="4.60" fill="#fff" />
<rect x="515.05" y="479.60" width="1.00" height="4.60" fill="#fff" />
<rect x="517.38" y="479.60" width="1.00" height="4.60" fill="#fff" />
<rect x="519.71" y="479.60" width="1.00" height="4.60" fill="#fff" />
<rect x="522.04" y="479.60" width="1.00" height="4.60" fill="#fff" />
<rect x="524.37" y="479.60" width="1.00" height="4.60" fill="#fff" />
<rect x="526.70" y="479.60" width="1.00" height="4.60" fill="#fff" />
<rect x="529.03" y="479.60" width="1.00" height="4.60" fill="#fff" />
<rect x="531.36" y="479.60" width="1.00" height="4.60" fill="#fff" />
<rect x="533.69" y="479.60" width="1.00" height="4.60" fill="#fff" />
<rect x="536.02" y="479.60" width="1.00" height="4.60" fill="#fff" />
<rect x="538.35" y="479.60" width="1.00" height="4.60" fill="#fff" />
<rect x="540.68" y="479.60" width="1.00" height="4.60" fill="#fff" />
<rect x="543.01" y="479.60" width="1.00" height="4.60" fill="#fff" />
<rect x="545.34" y="479.60" width="1.00" height="4.60" fill="#fff" />
<rect x="547.67" y="479.60" width="1.00" height="4.60" fill="#fff" />
<rect x="550.00" y="479.60" width="1.00" height="4.60" fill="#fff" />
<rect x="552.33" y="479.60" width="1.00" height="4.60" fill="#fff" />
<rect x="554.66" y="479.60" width="1.00" height="4.60" fill="#fff" />
<rect x="556.99" y="479.60" width="1.00" height="4.60" fill="#fff" />
<rect x="559.32" y="479.60" width="1.00" height="4.60" fill="#fff" />
<rect x="561.65" y="479.60" width="1.00" height="4.60" fill="#fff" />
<rect x="563.98" y="479.60" width="1.00" height="4.60" fill="#fff" />
<rect x="566.31" y="479.60" width="1.00" height="4.60" fill="#fff" />
<rect x="568.64" y="479.60" width="1.00" height="4.60" fill="#fff" />
<rect x="570.97" y="479.60" width="1.00" height="4.60" fill="#fff" />
<rect x="573.30" y="479.60" width="1.00" height="4.60" fill="#fff" />
<rect x="575.63" y="479.60" width="1.00" height="4.60" fill="#fff" />
<rect x="577.96" y="479.60" width="1.00" height="4.60" fill="#fff" />
<rect x="580.29" y="479.60" width="1.00" height="4.60" fill="#fff" />
<rect x="582.62" y="479.60" width="1.00" height="4.60" fill="#fff" />
<rect x="584.95" y="479.60" width="1.00" height="4.60" fill="#fff" />
<rect x="587.28" y="479.60" width="1.00" height="4.60" fill="#fff" />
<rect x="589.61" y="479.60" width="1.00" height="4.60" fill="#fff" />
<rect x="591.94" y="479.60" width="1.00" height="4.60" fill="#fff" />
<rect x="451.30" y="474.70" width="56.20" height="17.00" fill="#000" rx="2.5"/>
<rect x="452.30" y="475.70" width="54.20" height="14.60" fill="#fff" rx="2"/>
<text x="479.20" y="488.20" font-size="13" text-anchor="middle" letter-spacing="0.75" >BANK 1</text>
<rect x="339.00" y="493.00" width="278.00" height="15.60" fill="#000" />
<rect x="340.00" y="494.00" width="276.00" height="14.00" fill="#fff" />
<rect x="596.00" y="495.00" width="13.00" height="1.00" fill="#000" />
<rect x="596.00" y="495.00" width="1.00" height="8.00" fill="#000" />
<rect x="598.00" y="500.00" width="6.00" height="1.00" fill="#000" />
<rect x="598.00" y="500.00" width="1.00" height="7.00" fill="#000" />
<rect x="603.00" y="501.00" width="1.00" height="4.00" fill="#000" />
<rect x="603.00" y="504.00" width="3.00" height="1.00" fill="#000" />
<rect x="598.00" y="506.00" width="8.00" height="1.00" fill="#000" />
<rect x="606.00" y="495.00" width="2.00" height="12.00" fill="#000" />
<rect x="609.00" y="494.00" width="1.00" height="14.00" fill="#000" />
<rect x="610.00" y="497.00" width="6.00" height="1.00" fill="#000" />
<rect x="610.00" y="502.00" width="6.00" height="1.00" fill="#000" />
<rect x="347.00" y="495.00" width="13.00" height="1.00" fill="#000" />
<rect x="359.00" y="495.00" width="1.00" height="8.00" fill="#000" />
<rect x="352.00" y="500.00" width="6.00" height="1.00" fill="#000" />
<rect x="357.00" y="500.00" width="1.00" height="7.00" fill="#000" />
<rect x="352.00" y="501.00" width="1.00" height="4.00" fill="#000" />
<rect x="350.00" y="504.00" width="3.00" height="1.00" fill="#000" />
<rect x="350.00" y="506.00" width="8.00" height="1.00" fill="#000" />
<rect x="348.00" y="495.00" width="2.00" height="12.00" fill="#000" />
<rect x="346.00" y="494.00" width="1.00" height="14.00" fill="#000" />
<rect x="340.00" y="497.00" width="6.00" height="1.00" fill="#000" />
<rect x="340.00" y="502.00" width="6.00" height="1.00" fill="#000" />
<rect x="362.00" y="495.00" width="232.00" height="7.00" fill="#000" />
<rect x="363.00" y="502.00" width="230.00" height="5.00" fill="#000" />
<rect x="363.60" y="496.60" width="1.00" height="4.60" fill="#fff" />
<rect x="365.93" y="496.60" width="1.00" height="4.60" fill="#fff" />
<rect x="368.26" y="496.60" width="1.00" height="4.60" fill="#fff" />
<rect x="370.59" y="496.60" width="1.00" height="4.60" fill="#fff" />
<rect x="372.92" y="496.60" width="1.00" height="4.60" fill="#fff" />
<rect x="375.25" y="496.60" width="1.00" height="4.60" fill="#fff" />
<rect x="377.58" y="496.60" width="1.00" height="4.60" fill="#fff" />
<rect x="379.91" y="496.60" width="1.00" height="4.60" fill="#fff" />
<rect x="382.24" y="496.60" width="1.00" height="4.60" fill="#fff" />
<rect x="384.57" y="496.60" width="1.00" height="4.60" fill="#fff" />
<rect x="386.90" y="496.60" width="1.00" height="4.60" fill="#fff" />
<rect x="389.23" y="496.60" width="1.00" height="4.60" fill="#fff" />
<rect x="391.56" y="496.60" width="1.00" height="4.60" fill="#fff" />
<rect x="393.89" y="496.60" width="1.00" height="4.60" fill="#fff" />
<rect x="396.22" y="496.60" width="1.00" height="4.60" fill="#fff" />
<rect x="398.55" y="496.60" width="1.00" height="4.60" fill="#fff" />
<rect x="400.88" y="496.60" width="1.00" height="4.60" fill="#fff" />
<rect x="403.21" y="496.60" width="1.00" height="4.60" fill="#fff" />
<rect x="405.54" y="496.60" width="1.00" height="4.60" fill="#fff" />
<rect x="407.87" y="496.60" width="1.00" height="4.60" fill="#fff" />
<rect x="410.20" y="496.60" width="1.00" height="4.60" fill="#fff" />
<rect x="412.53" y="496.60" width="1.00" height="4.60" fill="#fff" />
<rect x="414.86" y="496.60" width="1.00" height="4.60" fill="#fff" />
<rect x="417.19" y="496.60" width="1.00" height="4.60" fill="#fff" />
<rect x="419.52" y="496.60" width="1.00" height="4.60" fill="#fff" />
<rect x="421.85" y="496.60" width="1.00" height="4.60" fill="#fff" />
<rect x="424.18" y="496.60" width="1.00" height="4.60" fill="#fff" />
<rect x="426.51" y="496.60" width="1.00" height="4.60" fill="#fff" />
<rect x="428.84" y="496.60" width="1.00" height="4.60" fill="#fff" />
<rect x="431.17" y="496.60" width="1.00" height="4.60" fill="#fff" />
<rect x="433.50" y="496.60" width="1.00" height="4.60" fill="#fff" />
<rect x="435.83" y="496.60" width="1.00" height="4.60" fill="#fff" />
<rect x="438.16" y="496.60" width="1.00" height="4.60" fill="#fff" />
<rect x="440.49" y="496.60" width="1.00" height="4.60" fill="#fff" />
<rect x="442.82" y="496.60" width="1.00" height="4.60" fill="#fff" />
<rect x="445.15" y="496.60" width="1.00" height="4.60" fill="#fff" />
<rect x="447.48" y="496.60" width="1.00" height="4.60" fill="#fff" />
<rect x="449.81" y="496.60" width="1.00" height="4.60" fill="#fff" />
<rect x="452.14" y="496.60" width="1.00" height="4.60" fill="#fff" />
<rect x="454.47" y="496.60" width="1.00" height="4.60" fill="#fff" />
<rect x="456.80" y="496.60" width="1.00" height="4.60" fill="#fff" />
<rect x="459.13" y="496.60" width="1.00" height="4.60" fill="#fff" />
<rect x="461.46" y="496.60" width="1.00" height="4.60" fill="#fff" />
<rect x="463.79" y="496.60" width="1.00" height="4.60" fill="#fff" />
<rect x="466.12" y="496.60" width="1.00" height="4.60" fill="#fff" />
<rect x="468.45" y="496.60" width="1.00" height="4.60" fill="#fff" />
<rect x="470.78" y="496.60" width="1.00" height="4.60" fill="#fff" />
<rect x="473.11" y="496.60" width="1.00" height="4.60" fill="#fff" />
<rect x="475.44" y="496.60" width="1.00" height="4.60" fill="#fff" />
<rect x="477.77" y="496.60" width="1.00" height="4.60" fill="#fff" />
<rect x="480.10" y="496.60" width="1.00" height="4.60" fill="#fff" />
<rect x="482.43" y="496.60" width="1.00" height="4.60" fill="#fff" />
<rect x="484.76" y="496.60" width="1.00" height="4.60" fill="#fff" />
<rect x="487.09" y="496.60" width="1.00" height="4.60" fill="#fff" />
<rect x="489.42" y="496.60" width="1.00" height="4.60" fill="#fff" />
<rect x="491.75" y="496.60" width="1.00" height="4.60" fill="#fff" />
<rect x="494.08" y="496.60" width="1.00" height="4.60" fill="#fff" />
<rect x="496.41" y="496.60" width="1.00" height="4.60" fill="#fff" />
<rect x="498.74" y="496.60" width="1.00" height="4.60" fill="#fff" />
<rect x="501.07" y="496.60" width="1.00" height="4.60" fill="#fff" />
<rect x="503.40" y="496.60" width="1.00" height="4.60" fill="#fff" />
<rect x="505.73" y="496.60" width="1.00" height="4.60" fill="#fff" />
<rect x="508.06" y="496.60" width="1.00" height="4.60" fill="#fff" />
<rect x="510.39" y="496.60" width="1.00" height="4.60" fill="#fff" />
<rect x="512.72" y="496.60" width="1.00" height="4.60" fill="#fff" />
<rect x="515.05" y="496.60" width="1.00" height="4.60" fill="#fff" />
<rect x="517.38" y="496.60" width="1.00" height="4.60" fill="#fff" />
<rect x="519.71" y="496.60" width="1.00" height="4.60" fill="#fff" />
<rect x="522.04" y="496.60" width="1.00" height="4.60" fill="#fff" />
<rect x="524.37" y="496.60" width="1.00" height="4.60" fill="#fff" />
<rect x="526.70" y="496.60" width="1.00" height="4.60" fill="#fff" />
<rect x="529.03" y="496.60" width="1.00" height="4.60" fill="#fff" />
<rect x="531.36" y="496.60" width="1.00" height="4.60" fill="#fff" />
<rect x="533.69" y="496.60" width="1.00" height="4.60" fill="#fff" />
<rect x="536.02" y="496.60" width="1.00" height="4.60" fill="#fff" />
<rect x="538.35" y="496.60" width="1.00" height="4.60" fill="#fff" />
<rect x="540.68" y="496.60" width="1.00" height="4.60" fill="#fff" />
<rect x="543.01" y="496.60" width="1.00" height="4.60" fill="#fff" />
<rect x="545.34" y="496.60" width="1.00" height="4.60" fill="#fff" />
<rect x="547.67" y="496.60" width="1.00" height="4.60" fill="#fff" />
<rect x="550.00" y="496.60" width="1.00" height="4.60" fill="#fff" />
<rect x="552.33" y="496.60" width="1.00" height="4.60" fill="#fff" />
<rect x="554.66" y="496.60" width="1.00" height="4.60" fill="#fff" />
<rect x="556.99" y="496.60" width="1.00" height="4.60" fill="#fff" />
<rect x="559.32" y="496.60" width="1.00" height="4.60" fill="#fff" />
<rect x="561.65" y="496.60" width="1.00" height="4.60" fill="#fff" />
<rect x="563.98" y="496.60" width="1.00" height="4.60" fill="#fff" />
<rect x="566.31" y="496.60" width="1.00" height="4.60" fill="#fff" />
<rect x="568.64" y="496.60" width="1.00" height="4.60" fill="#fff" />
<rect x="570.97" y="496.60" width="1.00" height="4.60" fill="#fff" />
<rect x="573.30" y="496.60" width="1.00" height="4.60" fill="#fff" />
<rect x="575.63" y="496.60" width="1.00" height="4.60" fill="#fff" />
<rect x="577.96" y="496.60" width="1.00" height="4.60" fill="#fff" />
<rect x="580.29" y="496.60" width="1.00" height="4.60" fill="#fff" />
<rect x="582.62" y="496.60" width="1.00" height="4.60" fill="#fff" />
<rect x="584.95" y="496.60" width="1.00" height="4.60" fill="#fff" />
<rect x="587.28" y="496.60" width="1.00" height="4.60" fill="#fff" />
<rect x="589.61" y="496.60" width="1.00" height="4.60" fill="#fff" />
<rect x="591.94" y="496.60" width="1.00" height="4.60" fill="#fff" />
<rect x="451.30" y="491.70" width="56.20" height="17.00" fill="#000" rx="2.5"/>
<rect x="452.30" y="492.70" width="54.20" height="14.60" fill="#fff" rx="2"/>
<text x="479.20" y="505.20" font-size="13" text-anchor="middle" letter-spacing="0.75" >BANK 2</text>
<rect x="339.00" y="510.00" width="278.00" height="15.60" fill="#000" />
<rect x="340.00" y="511.00" width="276.00" height="14.00" fill="#fff" />
<rect x="596.00" y="512.00" width="13.00" height="1.00" fill="#000" />
<rect x="596.00" y="512.00" width="1.00" height="8.00" fill="#000" />
<rect x="598.00" y="517.00" width="6.00" height="1.00" fill="#000" />
<rect x="598.00" y="517.00" width="1.00" height="7.00" fill="#000" />
<rect x="603.00" y="518.00" width="1.00" height="4.00" fill="#000" />
<rect x="603.00" y="521.00" width="3.00" height="1.00" fill="#000" />
<rect x="598.00" y="523.00" width="8.00" height="1.00" fill="#000" />
<rect x="606.00" y="512.00" width="2.00" height="12.00" fill="#000" />
<rect x="609.00" y="511.00" width="1.00" height="14.00" fill="#000" />
<rect x="610.00" y="514.00" width="6.00" height="1.00" fill="#000" />
<rect x="610.00" y="519.00" width="6.00" height="1.00" fill="#000" />
<rect x="347.00" y="512.00" width="13.00" height="1.00" fill="#000" />
<rect x="359.00" y="512.00" width="1.00" height="8.00" fill="#000" />
<rect x="352.00" y="517.00" width="6.00" height="1.00" fill="#000" />
<rect x="357.00" y="517.00" width="1.00" height="7.00" fill="#000" />
<rect x="352.00" y="518.00" width="1.00" height="4.00" fill="#000" />
<rect x="350.00" y="521.00" width="3.00" height="1.00" fill="#000" />
<rect x="350.00" y="523.00" width="8.00" height="1.00" fill="#000" />
<rect x="348.00" y="512.00" width="2.00" height="12.00" fill="#000" />
<rect x="346.00" y="511.00" width="1.00" height="14.00" fill="#000" />
<rect x="340.00" y="514.00" width="6.00" height="1.00" fill="#000" />
<rect x="340.00" y="519.00" width="6.00" height="1.00" fill="#000" />
<rect x="362.00" y="512.00" width="232.00" height="7.00" fill="#000" />
<rect x="363.00" y="519.00" width="230.00" height="5.00" fill="#000" />
<rect x="363.60" y="513.60" width="1.00" height="4.60" fill="#fff" />
<rect x="365.93" y="513.60" width="1.00" height="4.60" fill="#fff" />
<rect x="368.26" y="513.60" width="1.00" height="4.60" fill="#fff" />
<rect x="370.59" y="513.60" width="1.00" height="4.60" fill="#fff" />
<rect x="372.92" y="513.60" width="1.00" height="4.60" fill="#fff" />
<rect x="375.25" y="513.60" width="1.00" height="4.60" fill="#fff" />
<rect x="377.58" y="513.60" width="1.00" height="4.60" fill="#fff" />
<rect x="379.91" y="513.60" width="1.00" height="4.60" fill="#fff" />
<rect x="382.24" y="513.60" width="1.00" height="4.60" fill="#fff" />
<rect x="384.57" y="513.60" width="1.00" height="4.60" fill="#fff" />
<rect x="386.90" y="513.60" width="1.00" height="4.60" fill="#fff" />
<rect x="389.23" y="513.60" width="1.00" height="4.60" fill="#fff" />
<rect x="391.56" y="513.60" width="1.00" height="4.60" fill="#fff" />
<rect x="393.89" y="513.60" width="1.00" height="4.60" fill="#fff" />
<rect x="396.22" y="513.60" width="1.00" height="4.60" fill="#fff" />
<rect x="398.55" y="513.60" width="1.00" height="4.60" fill="#fff" />
<rect x="400.88" y="513.60" width="1.00" height="4.60" fill="#fff" />
<rect x="403.21" y="513.60" width="1.00" height="4.60" fill="#fff" />
<rect x="405.54" y="513.60" width="1.00" height="4.60" fill="#fff" />
<rect x="407.87" y="513.60" width="1.00" height="4.60" fill="#fff" />
<rect x="410.20" y="513.60" width="1.00" height="4.60" fill="#fff" />
<rect x="412.53" y="513.60" width="1.00" height="4.60" fill="#fff" />
<rect x="414.86" y="513.60" width="1.00" height="4.60" fill="#fff" />
<rect x="417.19" y="513.60" width="1.00" height="4.60" fill="#fff" />
<rect x="419.52" y="513.60" width="1.00" height="4.60" fill="#fff" />
<rect x="421.85" y="513.60" width="1.00" height="4.60" fill="#fff" />
<rect x="424.18" y="513.60" width="1.00" height="4.60" fill="#fff" />
<rect x="426.51" y="513.60" width="1.00" height="4.60" fill="#fff" />
<rect x="428.84" y="513.60" width="1.00" height="4.60" fill="#fff" />
<rect x="431.17" y="513.60" width="1.00" height="4.60" fill="#fff" />
<rect x="433.50" y="513.60" width="1.00" height="4.60" fill="#fff" />
<rect x="435.83" y="513.60" width="1.00" height="4.60" fill="#fff" />
<rect x="438.16" y="513.60" width="1.00" height="4.60" fill="#fff" />
<rect x="440.49" y="513.60" width="1.00" height="4.60" fill="#fff" />
<rect x="442.82" y="513.60" width="1.00" height="4.60" fill="#fff" />
<rect x="445.15" y="513.60" width="1.00" height="4.60" fill="#fff" />
<rect x="447.48" y="513.60" width="1.00" height="4.60" fill="#fff" />
<rect x="449.81" y="513.60" width="1.00" height="4.60" fill="#fff" />
<rect x="452.14" y="513.60" width="1.00" height="4.60" fill="#fff" />
<rect x="454.47" y="513.60" width="1.00" height="4.60" fill="#fff" />
<rect x="456.80" y="513.60" width="1.00" height="4.60" fill="#fff" />
<rect x="459.13" y="513.60" width="1.00" height="4.60" fill="#fff" />
<rect x="461.46" y="513.60" width="1.00" height="4.60" fill="#fff" />
<rect x="463.79" y="513.60" width="1.00" height="4.60" fill="#fff" />
<rect x="466.12" y="513.60" width="1.00" height="4.60" fill="#fff" />
<rect x="468.45" y="513.60" width="1.00" height="4.60" fill="#fff" />
<rect x="470.78" y="513.60" width="1.00" height="4.60" fill="#fff" />
<rect x="473.11" y="513.60" width="1.00" height="4.60" fill="#fff" />
<rect x="475.44" y="513.60" width="1.00" height="4.60" fill="#fff" />
<rect x="477.77" y="513.60" width="1.00" height="4.60" fill="#fff" />
<rect x="480.10" y="513.60" width="1.00" height="4.60" fill="#fff" />
<rect x="482.43" y="513.60" width="1.00" height="4.60" fill="#fff" />
<rect x="484.76" y="513.60" width="1.00" height="4.60" fill="#fff" />
<rect x="487.09" y="513.60" width="1.00" height="4.60" fill="#fff" />
<rect x="489.42" y="513.60" width="1.00" height="4.60" fill="#fff" />
<rect x="491.75" y="513.60" width="1.00" height="4.60" fill="#fff" />
<rect x="494.08" y="513.60" width="1.00" height="4.60" fill="#fff" />
<rect x="496.41" y="513.60" width="1.00" height="4.60" fill="#fff" />
<rect x="498.74" y="513.60" width="1.00" height="4.60" fill="#fff" />
<rect x="501.07" y="513.60" width="1.00" height="4.60" fill="#fff" />
<rect x="503.40" y="513.60" width="1.00" height="4.60" fill="#fff" />
<rect x="505.73" y="513.60" width="1.00" height="4.60" fill="#fff" />
<rect x="508.06" y="513.60" width="1.00" height="4.60" fill="#fff" />
<rect x="510.39" y="513.60" width="1.00" height="4.60" fill="#fff" />
<rect x="512.72" y="513.60" width="1.00" height="4.60" fill="#fff" />
<rect x="515.05" y="513.60" width="1.00" height="4.60" fill="#fff" />
<rect x="517.38" y="513.60" width="1.00" height="4.60" fill="#fff" />
<rect x="519.71" y="513.60" width="1.00" height="4.60" fill="#fff" />
<rect x="522.04" y="513.60" width="1.00" height="4.60" fill="#fff" />
<rect x="524.37" y="513.60" width="1.00" height="4.60" fill="#fff" />
<rect x="526.70" y="513.60" width="1.00" height="4.60" fill="#fff" />
<rect x="529.03" y="513.60" width="1.00" height="4.60" fill="#fff" />
<rect x="531.36" y="513.60" width="1.00" height="4.60" fill="#fff" />
<rect x="533.69" y="513.60" width="1.00" height="4.60" fill="#fff" />
<rect x="536.02" y="513.60" width="1.00" height="4.60" fill="#fff" />
<rect x="538.35" y="513.60" width="1.00" height="4.60" fill="#fff" />
<rect x="540.68" y="513.60" width="1.00" height="4.60" fill="#fff" />
<rect x="543.01" y="513.60" width="1.00" height="4.60" fill="#fff" />
<rect x="545.34" y="513.60" width="1.00" height="4.60" fill="#fff" />
<rect x="547.67" y="513.60" width="1.00" height="4.60" fill="#fff" />
<rect x="550.00" y="513.60" width="1.00" height="4.60" fill="#fff" />
<rect x="552.33" y="513.60" width="1.00" height="4.60" fill="#fff" />
<rect x="554.66" y="513.60" width="1.00" height="4.60" fill="#fff" />
<rect x="556.99" y="513.60" width="1.00" height="4.60" fill="#fff" />
<rect x="559.32" y="513.60" width="1.00" height="4.60" fill="#fff" />
<rect x="561.65" y="513.60" width="1.00" height="4.60" fill="#fff" />
<rect x="563.98" y="513.60" width="1.00" height="4.60" fill="#fff" />
<rect x="566.31" y="513.60" width="1.00" height="4.60" fill="#fff" />
<rect x="568.64" y="513.60" width="1.00" height="4.60" fill="#fff" />
<rect x="570.97" y="513.60" width="1.00" height="4.60" fill="#fff" />
<rect x="573.30" y="513.60" width="1.00" height="4.60" fill="#fff" />
<rect x="575.63" y="513.60" width="1.00" height="4.60" fill="#fff" />
<rect x="577.96" y="513.60" width="1.00" height="4.60" fill="#fff" />
<rect x="580.29" y="513.60" width="1.00" height="4.60" fill="#fff" />
<rect x="582.62" y="513.60" width="1.00" height="4.60" fill="#fff" />
<rect x="584.95" y="513.60" width="1.00" height="4.60" fill="#fff" />
<rect x="587.28" y="513.60" width="1.00" height="4.60" fill="#fff" />
<rect x="589.61" y="513.60" width="1.00" height="4.60" fill="#fff" />
<rect x="591.94" y="513.60" width="1.00" height="4.60" fill="#fff" />
<rect x="451.30" y="508.70" width="56.20" height="17.00" fill="#000" rx="2.5"/>
<rect x="452.30" y="509.70" width="54.20" height="14.60" fill="#fff" rx="2"/>
<text x="479.20" y="522.20" font-size="13" text-anchor="middle" letter-spacing="0.75" >BANK 3</text>
<rect x="629.00" y="421.00" width="24.00" height="113.00" fill="#000" />
<rect x="630.00" y="422.00" width="22.00" height="111.00" fill="#fff" />
<rect x="632.00" y="423.00" width="1.00" height="3.00" fill="#000" />
<rect x="639.00" y="423.00" width="1.00" height="3.00" fill="#000" />
<rect x="633.00" y="425.00" width="6.00" height="1.00" fill="#000" />
<rect x="632.00" y="428.00" width="8.00" height="1.00" fill="#000" />
<rect x="632.00" y="428.00" width="1.00" height="3.00" fill="#000" />
<rect x="639.00" y="428.00" width="1.00" height="3.00" fill="#000" />
<rect x="641.50" y="423.00" width="2.00" height="7.00" fill="#000" />
<rect x="646.50" y="423.00" width="3.50" height="7.00" fill="#000" />
<rect x="647.50" y="424.00" width="1.50" height="5.00" fill="#fff" />
<rect x="644.50" y="422.00" width="1.00" height="111.00" fill="#000" />
<rect x="632.00" y="438.20" width="8.00" height="7.20" fill="#000" />
<rect x="633.00" y="439.20" width="6.00" height="5.20" fill="#fff" />
<rect x="641.50" y="436.20" width="2.00" height="6.60" fill="#000" />
<rect x="645.50" y="438.70" width="1.50" height="1.00" fill="#000" />
<rect x="646.50" y="438.70" width="3.50" height="6.50" fill="#000" />
<rect x="647.50" y="439.70" width="1.50" height="4.50" fill="#fff" />
<rect x="632.00" y="447.40" width="8.00" height="7.20" fill="#000" />
<rect x="633.00" y="448.40" width="6.00" height="5.20" fill="#fff" />
<rect x="641.50" y="445.40" width="2.00" height="6.60" fill="#000" />
<rect x="645.50" y="447.90" width="1.50" height="1.00" fill="#000" />
<rect x="646.50" y="447.90" width="3.50" height="6.50" fill="#000" />
<rect x="647.50" y="448.90" width="1.50" height="4.50" fill="#fff" />
<rect x="632.00" y="456.60" width="8.00" height="7.20" fill="#000" />
<rect x="633.00" y="457.60" width="6.00" height="5.20" fill="#fff" />
<rect x="641.50" y="454.60" width="2.00" height="6.60" fill="#000" />
<rect x="645.50" y="457.10" width="1.50" height="1.00" fill="#000" />
<rect x="646.50" y="457.10" width="3.50" height="6.50" fill="#000" />
<rect x="647.50" y="458.10" width="1.50" height="4.50" fill="#fff" />
<rect x="632.00" y="465.80" width="8.00" height="7.20" fill="#000" />
<rect x="633.00" y="466.80" width="6.00" height="5.20" fill="#fff" />
<rect x="641.50" y="463.80" width="2.00" height="6.60" fill="#000" />
<rect x="645.50" y="466.30" width="1.50" height="1.00" fill="#000" />
<rect x="646.50" y="466.30" width="3.50" height="6.50" fill="#000" />
<rect x="647.50" y="467.30" width="1.50" height="4.50" fill="#fff" />
<rect x="632.00" y="475.00" width="8.00" height="7.20" fill="#000" />
<rect x="633.00" y="476.00" width="6.00" height="5.20" fill="#fff" />
<rect x="641.50" y="473.00" width="2.00" height="6.60" fill="#000" />
<rect x="645.50" y="475.50" width="1.50" height="1.00" fill="#000" />
<rect x="646.50" y="475.50" width="3.50" height="6.50" fill="#000" />
<rect x="647.50" y="476.50" width="1.50" height="4.50" fill="#fff" />
<rect x="632.00" y="484.20" width="8.00" height="7.20" fill="#000" />
<rect x="633.00" y="485.20" width="6.00" height="5.20" fill="#fff" />
<rect x="641.50" y="482.20" width="2.00" height="6.60" fill="#000" />
<rect x="645.50" y="484.70" width="1.50" height="1.00" fill="#000" />
<rect x="646.50" y="484.70" width="3.50" height="6.50" fill="#000" />
<rect x="647.50" y="485.70" width="1.50" height="4.50" fill="#fff" />
<rect x="632.00" y="493.40" width="8.00" height="7.20" fill="#000" />
<rect x="633.00" y="494.40" width="6.00" height="5.20" fill="#fff" />
<rect x="641.50" y="491.40" width="2.00" height="6.60" fill="#000" />
<rect x="645.50" y="493.90" width="1.50" height="1.00" fill="#000" />
<rect x="646.50" y="493.90" width="3.50" height="6.50" fill="#000" />
<rect x="647.50" y="494.90" width="1.50" height="4.50" fill="#fff" />
<rect x="632.00" y="502.60" width="8.00" height="7.20" fill="#000" />
<rect x="633.00" y="503.60" width="6.00" height="5.20" fill="#fff" />
<rect x="641.50" y="500.60" width="2.00" height="6.60" fill="#000" />
<rect x="645.50" y="503.10" width="1.50" height="1.00" fill="#000" />
<rect x="646.50" y="503.10" width="3.50" height="6.50" fill="#000" />
<rect x="647.50" y="504.10" width="1.50" height="4.50" fill="#fff" />
<rect x="632.00" y="511.80" width="8.00" height="7.20" fill="#000" />
<rect x="633.00" y="512.80" width="6.00" height="5.20" fill="#fff" />
<rect x="641.50" y="509.80" width="2.00" height="6.60" fill="#000" />
<rect x="645.50" y="512.30" width="1.50" height="1.00" fill="#000" />
<rect x="646.50" y="512.30" width="3.50" height="6.50" fill="#000" />
<rect x="647.50" y="513.30" width="1.50" height="4.50" fill="#fff" />
<rect x="632.00" y="521.00" width="8.00" height="7.20" fill="#000" />
<rect x="633.00" y="522.00" width="6.00" height="5.20" fill="#fff" />
<rect x="641.50" y="519.00" width="2.00" height="6.60" fill="#000" />
<rect x="645.50" y="521.50" width="1.50" height="1.00" fill="#000" />
<rect x="646.50" y="521.50" width="3.50" height="6.50" fill="#000" />
<rect x="647.50" y="522.50" width="1.50" height="4.50" fill="#fff" />
<rect x="633.00" y="530.00" width="1.00" height="3.00" fill="#000" />
<rect x="638.00" y="530.00" width="1.00" height="3.00" fill="#000" />
<rect x="633.00" y="530.00" width="6.00" height="1.00" fill="#000" />
<path d="M667 476 L690.4 476 L690.4 471 L692.4 471 L692.4 468.8 L696 468.8 L696 519.8 L692.4 519.8 L692.4 517.6 L690.4 517.6 L690.4 512.7 L667 512.7 Q665 512.7 665 510.7 L665 507 L662.7 507 L662.7 481.6 L665 481.6 L665 478 Q665 476 667 476 Z" fill="#000"/>
<rect x="659.00" y="484.00" width="5.00" height="9.00" fill="#000" />
<rect x="660.00" y="485.00" width="3.00" height="7.00" fill="#fff" />
<rect x="659.00" y="496.00" width="5.00" height="8.00" fill="#000" />
<rect x="660.00" y="497.00" width="3.00" height="6.00" fill="#fff" />
<rect x="664.00" y="493.00" width="2.00" height="3.00" fill="#fff" />
<rect x="209.50" y="175.30" width="31.80" height="17.20" fill="#000" rx="3.2" ry="3.2"/>
<rect x="70.30" y="37.60" width="36.30" height="18.20" fill="#000" rx="3.2" ry="3.2"/>
<rect x="115.60" y="3.50" width="33.20" height="17.70" fill="#000" rx="3.2" ry="3.2"/>
<rect x="30.20" y="84.40" width="41.30" height="16.40" fill="#000" rx="3.2" ry="3.2"/>
<rect x="119.80" y="78.60" width="41.20" height="17.00" fill="#000" rx="3.2" ry="3.2"/>
<rect x="22.20" y="102.60" width="41.20" height="18.00" fill="#000" rx="3.2" ry="3.2"/>
<rect x="22.20" y="122.30" width="41.20" height="18.20" fill="#000" rx="3.2" ry="3.2"/>
<rect x="38.00" y="146.00" width="41.60" height="18.30" fill="#000" rx="3.2" ry="3.2"/>
<rect x="3.50" y="170.50" width="74.50" height="17.20" fill="#000" rx="3.2" ry="3.2"/>
<rect x="38.00" y="189.50" width="41.60" height="18.20" fill="#000" rx="3.2" ry="3.2"/>
<rect x="112.30" y="113.10" width="41.40" height="18.30" fill="#000" rx="3.2" ry="3.2"/>
<rect x="128.40" y="133.50" width="39.80" height="16.50" fill="#000" rx="3.2" ry="3.2"/>
<rect x="134.70" y="152.20" width="38.30" height="15.30" fill="#000" rx="3.2" ry="3.2"/>
<rect x="134.70" y="171.60" width="76.10" height="15.00" fill="#000" rx="3.2" ry="3.2"/>
<rect x="134.70" y="191.90" width="38.30" height="16.90" fill="#000" rx="3.2" ry="3.2"/>
<rect x="55.40" y="214.80" width="39.80" height="17.20" fill="#000" rx="3.2" ry="3.2"/>
<rect x="62.50" y="235.00" width="41.50" height="16.00" fill="#000" rx="3.2" ry="3.2"/>
<rect x="143.70" y="224.00" width="40.50" height="17.70" fill="#000" rx="3.2" ry="3.2"/>
<rect x="143.70" y="249.80" width="40.50" height="17.60" fill="#000" rx="3.2" ry="3.2"/>
<rect x="257.00" y="223.60" width="42.40" height="18.00" fill="#000" rx="3.2" ry="3.2"/>
<rect x="225.00" y="259.30" width="24.70" height="17.10" fill="#000" rx="3.2" ry="3.2"/>
<rect x="302.40" y="257.10" width="41.30" height="16.50" fill="#000" rx="3.2" ry="3.2"/>
<rect x="250.00" y="290.60" width="41.80" height="17.10" fill="#000" rx="3.2" ry="3.2"/>
<rect x="334.40" y="289.60" width="41.60" height="18.10" fill="#000" rx="3.2" ry="3.2"/>
<rect x="540.90" y="159.70" width="33.00" height="17.50" fill="#000" rx="3.2" ry="3.2"/>
<rect x="494.70" y="169.50" width="41.10" height="16.90" fill="#000" rx="3.2" ry="3.2"/>
<rect x="577.90" y="169.50" width="34.70" height="17.50" fill="#000" rx="3.2" ry="3.2"/>
<rect x="593.20" y="192.10" width="33.70" height="16.00" fill="#000" rx="3.2" ry="3.2"/>
<rect x="480.80" y="195.00" width="40.20" height="17.40" fill="#000" rx="3.2" ry="3.2"/>
<rect x="573.30" y="213.80" width="32.00" height="18.80" fill="#000" rx="3.2" ry="3.2"/>
<rect x="529.30" y="223.60" width="42.80" height="19.80" fill="#000" rx="3.2" ry="3.2"/>
<rect x="639.10" y="269.20" width="33.60" height="18.30" fill="#000" rx="3.2" ry="3.2"/>
<rect x="693.10" y="316.30" width="35.60" height="17.20" fill="#000" rx="3.2" ry="3.2"/>
<rect x="145.50" y="327.60" width="42.10" height="18.10" fill="#000" rx="3.2" ry="3.2"/>
<rect x="130.80" y="382.70" width="39.70" height="17.50" fill="#000" rx="3.2" ry="3.2"/>
<rect x="215.00" y="381.60" width="41.50" height="17.50" fill="#000" rx="3.2" ry="3.2"/>
<rect x="172.90" y="414.40" width="49.90" height="18.20" fill="#000" rx="3.2" ry="3.2"/>
<rect x="262.00" y="421.60" width="40.60" height="16.40" fill="#000" rx="3.2" ry="3.2"/>
<rect x="303.60" y="385.40" width="42.40" height="17.90" fill="#000" rx="3.2" ry="3.2"/>
<rect x="385.30" y="385.40" width="34.20" height="17.90" fill="#000" rx="3.2" ry="3.2"/>
<rect x="504.70" y="385.40" width="33.30" height="17.90" fill="#000" rx="3.2" ry="3.2"/>
<rect x="579.90" y="385.40" width="32.00" height="17.90" fill="#000" rx="3.2" ry="3.2"/>
<rect x="385.80" y="463.80" width="32.60" height="16.20" fill="#000" rx="3.2" ry="3.2"/>
<rect x="518.60" y="453.00" width="33.10" height="17.40" fill="#000" rx="3.2" ry="3.2"/>
<rect x="625.00" y="431.00" width="35.80" height="18.30" fill="#000" rx="3.2" ry="3.2"/>
<polygon points="103.40,51.70 105.40,51.20 109.90,48.70 121.30,47.00 121.30,45.40 109.90,43.70 105.40,41.20 103.40,40.70" fill="#000" />
<polygon points="126.10,18.00 126.60,20.00 129.10,24.50 130.80,37.30 132.40,37.30 134.10,24.50 136.60,20.00 137.10,18.00" fill="#000" />
<polygon points="68.86,98.22 70.83,97.59 75.15,94.80 87.35,92.30 87.25,90.70 74.83,89.81 70.17,87.61 68.14,87.24" fill="#000" />
<polygon points="124.43,81.48 122.44,82.00 117.97,84.55 105.99,86.40 106.01,88.00 118.03,89.55 122.56,92.00 124.57,92.48" fill="#000" />
<polygon points="60.21,116.73 62.22,116.30 66.81,113.96 79.27,112.70 79.33,111.10 66.99,108.96 62.58,106.30 60.60,105.73" fill="#000" />
<polygon points="60.40,136.60 62.40,136.10 66.90,133.60 79.30,131.90 79.30,130.30 66.90,128.60 62.40,126.10 60.40,125.60" fill="#000" />
<polygon points="76.60,160.90 78.60,160.40 83.10,157.90 94.30,156.20 94.30,154.60 83.10,152.90 78.60,150.40 76.60,149.90" fill="#000" />
<polygon points="75.13,183.54 77.12,183.00 81.56,180.40 94.32,178.40 94.28,176.80 81.44,175.40 76.88,173.00 74.87,172.55" fill="#000" />
<polygon points="76.67,203.73 78.66,203.20 83.13,200.64 94.31,198.80 94.29,197.20 83.07,195.64 78.54,193.20 76.53,192.73" fill="#000" />
<polygon points="116.78,125.50 114.75,127.74 112.48,131.25 103.72,139.09 105.28,140.91 114.42,133.53 118.25,131.86 120.79,130.22" fill="#000" />
<polygon points="132.10,136.04 130.09,136.50 125.54,138.92 113.01,140.40 112.99,142.00 125.46,143.92 129.91,146.50 131.90,147.03" fill="#000" />
<polygon points="138.56,154.12 136.56,154.60 132.03,157.05 119.01,158.60 118.99,160.20 131.97,162.05 136.44,164.60 138.44,165.12" fill="#000" />
<polygon points="138.75,173.20 136.73,173.61 132.12,175.90 119.04,177.00 118.96,178.60 131.89,180.89 136.27,183.59 138.25,184.19" fill="#000" />
<polygon points="138.69,194.17 136.67,194.60 132.09,196.95 119.03,198.20 118.97,199.80 131.92,201.94 136.33,204.60 138.31,205.17" fill="#000" />
<polygon points="93.69,221.31 95.52,218.90 97.48,215.21 104.85,207.34 103.15,205.66 95.35,213.10 91.68,215.10 89.29,216.95" fill="#000" />
<polygon points="102.44,240.57 103.42,237.70 104.13,233.59 113.57,213.93 111.43,212.87 101.44,232.25 98.58,235.30 96.89,237.80" fill="#000" />
<polygon points="147.50,226.80 145.50,227.30 141.00,229.80 129.00,231.50 129.00,233.10 141.00,234.80 145.50,237.30 147.50,237.80" fill="#000" />
<polygon points="147.50,253.30 145.50,253.80 141.00,256.30 129.00,258.00 129.00,259.60 141.00,261.30 145.50,263.80 147.50,264.30" fill="#000" />
<polygon points="272.90,238.00 273.40,240.00 275.90,244.50 277.60,259.30 279.20,259.30 280.90,244.50 283.40,240.00 283.90,238.00" fill="#000" />
<polygon points="246.70,273.00 248.70,272.50 253.20,270.00 266.00,268.30 266.00,266.70 253.20,265.00 248.70,262.50 246.70,262.00" fill="#000" />
<polygon points="306.00,259.50 304.00,260.00 299.50,262.50 288.00,264.20 288.00,265.80 299.50,267.50 304.00,270.00 306.00,270.50" fill="#000" />
<polygon points="288.94,304.15 290.93,303.60 295.36,300.98 306.32,299.00 306.28,297.40 295.23,295.98 290.67,293.60 288.66,293.15" fill="#000" />
<polygon points="338.07,292.92 336.06,293.40 331.53,295.85 319.41,297.40 319.39,299.00 331.47,300.85 335.94,303.40 337.93,303.92" fill="#000" />
<polygon points="551.10,174.00 551.60,176.00 554.10,180.50 555.80,194.30 557.40,194.30 559.10,180.50 561.60,176.00 562.10,174.00" fill="#000" />
<polygon points="527.69,182.06 529.96,184.07 533.49,186.31 541.49,195.09 543.31,193.51 535.75,184.34 534.04,180.53 532.38,178.00" fill="#000" />
<polygon points="583.23,178.49 581.50,180.98 579.70,184.75 572.41,193.19 574.19,194.81 581.92,186.77 585.50,184.62 587.81,182.67" fill="#000" />
<polygon points="597.00,194.60 595.00,195.10 590.50,197.60 577.50,199.30 577.50,200.90 590.50,202.60 595.00,205.10 597.00,205.60" fill="#000" />
<polygon points="518.07,208.72 520.06,208.20 524.53,205.64 536.31,203.80 536.29,202.20 524.47,200.64 519.94,198.20 517.93,197.72" fill="#000" />
<polygon points="580.76,215.34 578.13,213.85 574.21,212.39 565.72,206.34 564.28,208.26 572.41,214.78 574.87,218.15 577.02,220.28" fill="#000" />
<polygon points="555.12,226.95 554.60,224.95 553.05,220.47 551.20,207.49 549.60,207.51 548.05,220.53 546.60,225.05 546.12,227.05" fill="#000" />
<polygon points="649.80,284.40 650.30,286.40 652.80,290.90 654.50,303.00 656.10,303.00 657.80,290.90 660.30,286.40 660.80,284.40" fill="#000" />
<polygon points="697.00,319.70 695.00,320.20 690.50,322.70 677.80,324.40 677.80,326.00 690.50,327.70 695.00,330.20 697.00,330.70" fill="#000" />
<polygon points="161.10,342.50 161.60,344.50 164.10,349.00 165.80,363.20 167.40,363.20 169.10,349.00 171.60,344.50 172.10,342.50" fill="#000" />
<polygon points="167.59,396.53 169.58,396.00 174.04,393.42 187.41,391.50 187.39,389.90 173.96,388.42 169.42,386.00 167.41,385.53" fill="#000" />
<polygon points="218.70,384.86 216.71,385.40 212.26,387.98 200.19,389.90 200.21,391.50 212.35,392.98 216.89,395.40 218.90,395.86" fill="#000" />
<polygon points="299.67,434.92 301.66,434.40 306.13,431.84 317.61,430.00 317.59,428.40 306.07,426.84 301.54,424.40 299.53,423.93" fill="#000" />
<polygon points="318.40,400.00 318.90,402.00 321.40,406.50 323.10,421.00 324.70,421.00 326.40,406.50 328.90,402.00 329.40,400.00" fill="#000" />
<polygon points="395.50,400.00 396.00,402.00 398.50,406.50 400.20,419.30 401.80,419.30 403.50,406.50 406.00,402.00 406.50,400.00" fill="#000" />
<polygon points="514.40,400.00 514.90,402.00 517.40,406.50 519.10,419.30 520.70,419.30 522.40,406.50 524.90,402.00 525.40,400.00" fill="#000" />
<polygon points="590.10,400.00 590.60,402.00 593.10,406.50 594.80,419.30 596.40,419.30 598.10,406.50 600.60,402.00 601.10,400.00" fill="#000" />
<polygon points="404.25,468.00 403.75,466.00 403.50,461.50 401.80,447.00 400.20,447.00 398.50,461.50 398.25,466.00 397.75,468.00" fill="#000" />
<polygon points="526.78,455.48 524.20,453.90 520.33,452.32 512.25,446.17 510.75,448.03 518.45,454.65 520.80,458.10 522.88,460.30" fill="#000" />
<polygon points="629.10,434.34 627.09,434.80 622.55,437.22 610.81,438.70 610.79,440.30 622.45,442.22 626.91,444.80 628.90,445.34" fill="#000" />
<rect x="211.80" y="176.30" width="28.50" height="13.60" fill="#fff" rx="2.2" ry="2.2"/>
<rect x="72.60" y="38.60" width="33.00" height="14.60" fill="#fff" rx="2.2" ry="2.2"/>
<rect x="117.90" y="4.50" width="29.90" height="14.10" fill="#fff" rx="2.2" ry="2.2"/>
<rect x="32.50" y="85.40" width="38.00" height="12.80" fill="#fff" rx="2.2" ry="2.2"/>
<rect x="120.80" y="79.60" width="39.20" height="15.00" fill="#fff" rx="2.2" ry="2.2"/>
<rect x="24.50" y="103.60" width="37.90" height="14.40" fill="#fff" rx="2.2" ry="2.2"/>
<rect x="24.50" y="123.30" width="37.90" height="14.60" fill="#fff" rx="2.2" ry="2.2"/>
<rect x="40.30" y="147.00" width="38.30" height="14.70" fill="#fff" rx="2.2" ry="2.2"/>
<rect x="5.80" y="171.50" width="71.20" height="13.60" fill="#fff" rx="2.2" ry="2.2"/>
<rect x="40.30" y="190.50" width="38.30" height="14.60" fill="#fff" rx="2.2" ry="2.2"/>
<rect x="114.60" y="114.10" width="38.10" height="14.70" fill="#fff" rx="2.2" ry="2.2"/>
<rect x="130.70" y="134.50" width="36.50" height="12.90" fill="#fff" rx="2.2" ry="2.2"/>
<rect x="137.00" y="153.20" width="35.00" height="11.70" fill="#fff" rx="2.2" ry="2.2"/>
<rect x="137.00" y="172.60" width="72.80" height="11.40" fill="#fff" rx="2.2" ry="2.2"/>
<rect x="137.00" y="192.90" width="35.00" height="13.30" fill="#fff" rx="2.2" ry="2.2"/>
<rect x="57.70" y="215.80" width="36.50" height="13.60" fill="#fff" rx="2.2" ry="2.2"/>
<rect x="64.80" y="236.00" width="38.20" height="12.40" fill="#fff" rx="2.2" ry="2.2"/>
<rect x="146.00" y="225.00" width="37.20" height="14.10" fill="#fff" rx="2.2" ry="2.2"/>
<rect x="146.00" y="250.80" width="37.20" height="14.00" fill="#fff" rx="2.2" ry="2.2"/>
<rect x="259.30" y="224.60" width="39.10" height="14.40" fill="#fff" rx="2.2" ry="2.2"/>
<rect x="227.30" y="260.30" width="21.40" height="13.50" fill="#fff" rx="2.2" ry="2.2"/>
<rect x="304.70" y="258.10" width="38.00" height="12.90" fill="#fff" rx="2.2" ry="2.2"/>
<rect x="252.30" y="291.60" width="38.50" height="13.50" fill="#fff" rx="2.2" ry="2.2"/>
<rect x="336.70" y="290.60" width="38.30" height="14.50" fill="#fff" rx="2.2" ry="2.2"/>
<rect x="543.20" y="160.70" width="29.70" height="13.90" fill="#fff" rx="2.2" ry="2.2"/>
<rect x="497.00" y="170.50" width="37.80" height="13.30" fill="#fff" rx="2.2" ry="2.2"/>
<rect x="580.20" y="170.50" width="31.40" height="13.90" fill="#fff" rx="2.2" ry="2.2"/>
<rect x="595.50" y="193.10" width="30.40" height="12.40" fill="#fff" rx="2.2" ry="2.2"/>
<rect x="483.10" y="196.00" width="36.90" height="13.80" fill="#fff" rx="2.2" ry="2.2"/>
<rect x="575.60" y="214.80" width="28.70" height="15.20" fill="#fff" rx="2.2" ry="2.2"/>
<rect x="531.60" y="224.60" width="39.50" height="16.20" fill="#fff" rx="2.2" ry="2.2"/>
<rect x="641.40" y="270.20" width="30.30" height="14.70" fill="#fff" rx="2.2" ry="2.2"/>
<rect x="695.40" y="317.30" width="32.30" height="13.60" fill="#fff" rx="2.2" ry="2.2"/>
<rect x="147.80" y="328.60" width="38.80" height="14.50" fill="#fff" rx="2.2" ry="2.2"/>
<rect x="133.10" y="383.70" width="36.40" height="13.90" fill="#fff" rx="2.2" ry="2.2"/>
<rect x="217.30" y="382.60" width="38.20" height="13.90" fill="#fff" rx="2.2" ry="2.2"/>
<rect x="175.20" y="415.40" width="46.60" height="14.60" fill="#fff" rx="2.2" ry="2.2"/>
<rect x="264.30" y="422.60" width="37.30" height="12.80" fill="#fff" rx="2.2" ry="2.2"/>
<rect x="305.90" y="386.40" width="39.10" height="14.30" fill="#fff" rx="2.2" ry="2.2"/>
<rect x="387.60" y="386.40" width="30.90" height="14.30" fill="#fff" rx="2.2" ry="2.2"/>
<rect x="507.00" y="386.40" width="30.00" height="14.30" fill="#fff" rx="2.2" ry="2.2"/>
<rect x="582.20" y="386.40" width="28.70" height="14.30" fill="#fff" rx="2.2" ry="2.2"/>
<rect x="386.80" y="464.80" width="30.60" height="14.20" fill="#fff" rx="2.2" ry="2.2"/>
<rect x="519.60" y="454.00" width="31.10" height="15.40" fill="#fff" rx="2.2" ry="2.2"/>
<rect x="627.30" y="432.00" width="32.50" height="14.70" fill="#fff" rx="2.2" ry="2.2"/>
<polygon points="102.40,49.40 105.40,49.40 109.90,46.95 114.94,46.20 109.90,45.45 105.40,43.00 102.40,43.00" fill="#fff" />
<polygon points="128.40,17.00 128.40,20.00 130.85,24.50 131.60,30.38 132.35,24.50 134.80,20.00 134.80,17.00" fill="#fff" />
<polygon points="67.72,95.99 70.71,95.79 75.04,93.05 80.58,91.94 74.94,91.56 70.29,89.41 67.30,89.60" fill="#fff" />
<polygon points="125.46,83.76 122.46,83.80 117.99,86.30 112.60,87.12 118.01,87.80 122.54,90.20 125.54,90.16" fill="#fff" />
<polygon points="59.29,114.39 62.29,114.50 66.87,112.21 72.54,111.66 66.92,110.71 62.51,108.10 59.52,108.00" fill="#fff" />
<polygon points="59.40,134.30 62.40,134.30 66.90,131.85 72.54,131.10 66.90,130.35 62.40,127.90 59.40,127.90" fill="#fff" />
<polygon points="75.60,158.60 78.60,158.60 83.10,156.15 88.02,155.40 83.10,154.65 78.60,152.20 75.60,152.20" fill="#fff" />
<polygon points="74.07,181.27 77.07,181.20 81.52,178.65 87.38,177.76 81.48,177.15 76.93,174.80 73.93,174.87" fill="#fff" />
<polygon points="75.64,201.44 78.64,201.40 83.11,198.89 88.02,198.08 83.09,197.39 78.56,195.00 75.56,195.04" fill="#fff" />
<polygon points="118.96,126.52 115.92,129.11 111.93,133.69 117.08,130.49 120.13,127.90" fill="#fff" />
<polygon points="133.06,138.35 130.06,138.30 125.51,140.67 119.80,141.32 125.49,142.17 129.94,144.70 132.94,144.75" fill="#fff" />
<polygon points="139.54,156.43 136.54,156.40 132.01,158.80 126.00,159.48 131.99,160.30 136.46,162.80 139.46,162.83" fill="#fff" />
<polygon points="139.64,175.54 136.65,175.40 132.04,177.65 126.00,178.12 131.97,179.14 136.35,181.80 139.35,181.93" fill="#fff" />
<polygon points="139.61,196.50 136.61,196.40 132.03,198.70 126.00,199.24 131.98,200.20 136.39,202.80 139.39,202.90" fill="#fff" />
<polygon points="91.42,220.48 94.24,217.63 97.76,212.80 92.96,216.37 90.15,219.21" fill="#fff" />
<polygon points="100.02,240.48 101.81,236.90 103.67,231.13 100.19,236.10 98.41,239.68" fill="#fff" />
<polygon points="148.50,229.10 145.50,229.10 141.00,231.55 135.60,232.30 141.00,233.05 145.50,235.50 148.50,235.50" fill="#fff" />
<polygon points="148.50,255.60 145.50,255.60 141.00,258.05 135.60,258.80 141.00,259.55 145.50,262.00 148.50,262.00" fill="#fff" />
<polygon points="275.20,237.00 275.20,240.00 277.65,244.50 278.40,251.58 279.15,244.50 281.60,240.00 281.60,237.00" fill="#fff" />
<polygon points="245.70,270.70 248.70,270.70 253.20,268.25 259.08,267.50 253.20,266.75 248.70,264.30 245.70,264.30" fill="#fff" />
<polygon points="307.00,261.80 304.00,261.80 299.50,264.25 294.40,265.00 299.50,265.75 304.00,268.20 307.00,268.20" fill="#fff" />
<polygon points="287.88,301.88 290.88,301.80 295.32,299.23 300.10,298.36 295.28,297.73 290.72,295.40 287.72,295.48" fill="#fff" />
<polygon points="339.04,295.24 336.04,295.20 331.51,297.60 326.04,298.28 331.49,299.10 335.96,301.60 338.96,301.64" fill="#fff" />
<polygon points="553.40,173.00 553.40,176.00 555.85,180.50 556.60,186.98 557.35,180.50 559.80,176.00 559.80,173.00" fill="#fff" />
<polygon points="528.70,179.87 531.32,182.89 535.93,186.83 532.68,181.71 530.06,178.69" fill="#fff" />
<polygon points="585.53,179.24 582.83,182.19 579.46,187.24 584.17,183.41 586.86,180.45" fill="#fff" />
<polygon points="598.00,196.90 595.00,196.90 590.50,199.35 584.50,200.10 590.50,200.85 595.00,203.30 598.00,203.30" fill="#fff" />
<polygon points="517.04,206.44 520.04,206.40 524.51,203.89 529.78,203.08 524.49,202.39 519.96,200.00 516.96,200.04" fill="#fff" />
<polygon points="580.23,217.70 577.04,215.28 571.90,212.52 575.96,216.72 579.15,219.13" fill="#fff" />
<polygon points="552.83,227.97 552.80,224.97 551.30,220.49 550.48,214.50 549.80,220.51 548.40,225.03 548.43,228.02" fill="#fff" />
<polygon points="652.10,283.40 652.10,286.40 654.55,290.90 655.30,296.36 656.05,290.90 658.50,286.40 658.50,283.40" fill="#fff" />
<polygon points="698.00,322.00 695.00,322.00 690.50,324.45 684.68,325.20 690.50,325.95 695.00,328.40 698.00,328.40" fill="#fff" />
<polygon points="163.40,341.50 163.40,344.50 165.85,349.00 166.60,355.72 167.35,349.00 169.80,344.50 169.80,341.50" fill="#fff" />
<polygon points="166.55,394.25 169.55,394.20 174.01,391.67 180.24,390.82 173.99,390.17 169.45,387.80 166.45,387.85" fill="#fff" />
<polygon points="219.74,387.15 216.74,387.20 212.29,389.73 206.84,390.58 212.31,391.23 216.86,393.60 219.86,393.55" fill="#fff" />
<polygon points="298.64,432.64 301.64,432.60 306.11,430.09 311.20,429.28 306.09,428.59 301.56,426.20 298.56,426.24" fill="#fff" />
<polygon points="320.70,399.00 320.70,402.00 323.15,406.50 323.90,413.40 324.65,406.50 327.10,402.00 327.10,399.00" fill="#fff" />
<polygon points="397.80,399.00 397.80,402.00 400.25,406.50 401.00,412.38 401.75,406.50 404.20,402.00 404.20,399.00" fill="#fff" />
<polygon points="516.70,399.00 516.70,402.00 519.15,406.50 519.90,412.38 520.65,406.50 523.10,402.00 523.10,399.00" fill="#fff" />
<polygon points="592.40,399.00 592.40,402.00 594.85,406.50 595.60,412.38 596.35,406.50 598.80,402.00 598.80,399.00" fill="#fff" />
<polygon points="401.95,469.00 401.95,466.00 401.75,461.50 401.00,454.60 400.25,461.50 400.05,466.00 400.05,469.00" fill="#fff" />
<polygon points="526.18,457.82 523.07,455.30 518.10,452.44 521.93,456.70 525.04,459.22" fill="#fff" />
<polygon points="630.06,436.66 627.06,436.60 622.51,438.97 617.28,439.62 622.49,440.47 626.94,443.00 629.94,443.05" fill="#fff" />
<text x="226.65" y="187.60" font-size="12.5" text-anchor="middle" letter-spacing="0.7" >CPU</text>
<text x="87.17" y="50.58" font-size="13" text-anchor="middle" letter-spacing="0.15" >J18</text>
<text x="130.92" y="16.23" font-size="13" text-anchor="middle" letter-spacing="0.15" >J17</text>
<text x="49.58" y="96.48" font-size="13" text-anchor="middle" letter-spacing="0.15" >JP27</text>
<text x="140.67" y="91.78" font-size="13" text-anchor="middle" letter-spacing="0.15" >JP28</text>
<text x="41.53" y="115.48" font-size="13" text-anchor="middle" letter-spacing="0.15" >JP40</text>
<text x="41.53" y="135.28" font-size="13" text-anchor="middle" letter-spacing="0.15" >JP39</text>
<text x="57.52" y="159.03" font-size="13" text-anchor="middle" letter-spacing="0.15" >JP46</text>
<text x="39.62" y="182.98" font-size="13" text-anchor="middle" letter-spacing="0.45" >JP45,JP43</text>
<text x="57.52" y="202.48" font-size="13" text-anchor="middle" letter-spacing="0.15" >JP42</text>
<text x="131.72" y="126.13" font-size="13" text-anchor="middle" letter-spacing="0.15" >JP44</text>
<text x="147.02" y="145.63" font-size="13" text-anchor="middle" letter-spacing="0.15" >JP37</text>
<text x="155.27" y="163.73" font-size="13" text-anchor="middle" letter-spacing="0.15" >JP38</text>
<text x="171.68" y="182.98" font-size="13" text-anchor="middle" letter-spacing="0.55" >JP36,JP34</text>
<text x="152.57" y="204.23" font-size="13" text-anchor="middle" letter-spacing="0.15" >JP32</text>
<text x="74.03" y="227.28" font-size="13" text-anchor="middle" letter-spacing="0.15" >JP41</text>
<text x="81.98" y="246.88" font-size="13" text-anchor="middle" letter-spacing="0.15" >JP33</text>
<text x="162.67" y="236.73" font-size="13" text-anchor="middle" letter-spacing="0.15" >JP31</text>
<text x="162.67" y="262.48" font-size="13" text-anchor="middle" letter-spacing="0.15" >JP30</text>
<text x="276.93" y="236.48" font-size="13" text-anchor="middle" letter-spacing="0.15" >JP22</text>
<text x="236.07" y="271.73" font-size="13" text-anchor="middle" letter-spacing="0.15" >J7</text>
<text x="321.77" y="269.23" font-size="13" text-anchor="middle" letter-spacing="0.15" >JP21</text>
<text x="269.62" y="303.03" font-size="13" text-anchor="middle" letter-spacing="0.15" >JP15</text>
<text x="353.93" y="302.53" font-size="13" text-anchor="middle" letter-spacing="0.15" >JP14</text>
<text x="556.12" y="172.33" font-size="13" text-anchor="middle" letter-spacing="0.15" >JP9</text>
<text x="513.98" y="181.83" font-size="13" text-anchor="middle" letter-spacing="0.15" >JP11</text>
<text x="593.98" y="182.13" font-size="13" text-anchor="middle" letter-spacing="0.15" >JP7</text>
<text x="608.78" y="203.98" font-size="13" text-anchor="middle" letter-spacing="0.15" >JP6</text>
<text x="499.62" y="207.58" font-size="13" text-anchor="middle" letter-spacing="0.15" >JP12</text>
<text x="588.02" y="227.08" font-size="13" text-anchor="middle" letter-spacing="0.15" >JP8</text>
<text x="549.42" y="237.38" font-size="13" text-anchor="middle" letter-spacing="0.15" >JP10</text>
<text x="654.62" y="282.23" font-size="13" text-anchor="middle" letter-spacing="0.15" >JP5</text>
<text x="709.62" y="328.78" font-size="13" text-anchor="middle" letter-spacing="0.15" >J20</text>
<text x="165.27" y="340.53" font-size="13" text-anchor="middle" letter-spacing="0.15" >JP29</text>
<text x="149.38" y="395.33" font-size="13" text-anchor="middle" letter-spacing="0.15" >JP26</text>
<text x="234.47" y="394.23" font-size="13" text-anchor="middle" letter-spacing="0.15" >JP25</text>
<text x="198.82" y="427.38" font-size="13" text-anchor="middle" letter-spacing="0.45" >CACHE</text>
<text x="281.03" y="433.68" font-size="13" text-anchor="middle" letter-spacing="0.15" >JP17</text>
<text x="323.53" y="398.23" font-size="13" text-anchor="middle" letter-spacing="0.15" >JP18</text>
<text x="401.45" y="398.23" font-size="13" text-anchor="middle" letter-spacing="0.5" >CN6</text>
<text x="521.25" y="398.23" font-size="13" text-anchor="middle" letter-spacing="0.5" >CN4</text>
<text x="595.75" y="398.23" font-size="13" text-anchor="middle" letter-spacing="0.5" >CN2</text>
<text x="401.95" y="476.58" font-size="13" text-anchor="middle" letter-spacing="0.7" >CN5</text>
<text x="535.35" y="466.38" font-size="13" text-anchor="middle" letter-spacing="0.7" >CN3</text>
<text x="641.82" y="444.03" font-size="13" text-anchor="middle" letter-spacing="0.55" >CN1</text>
</g>
</svg>
</body></html>
